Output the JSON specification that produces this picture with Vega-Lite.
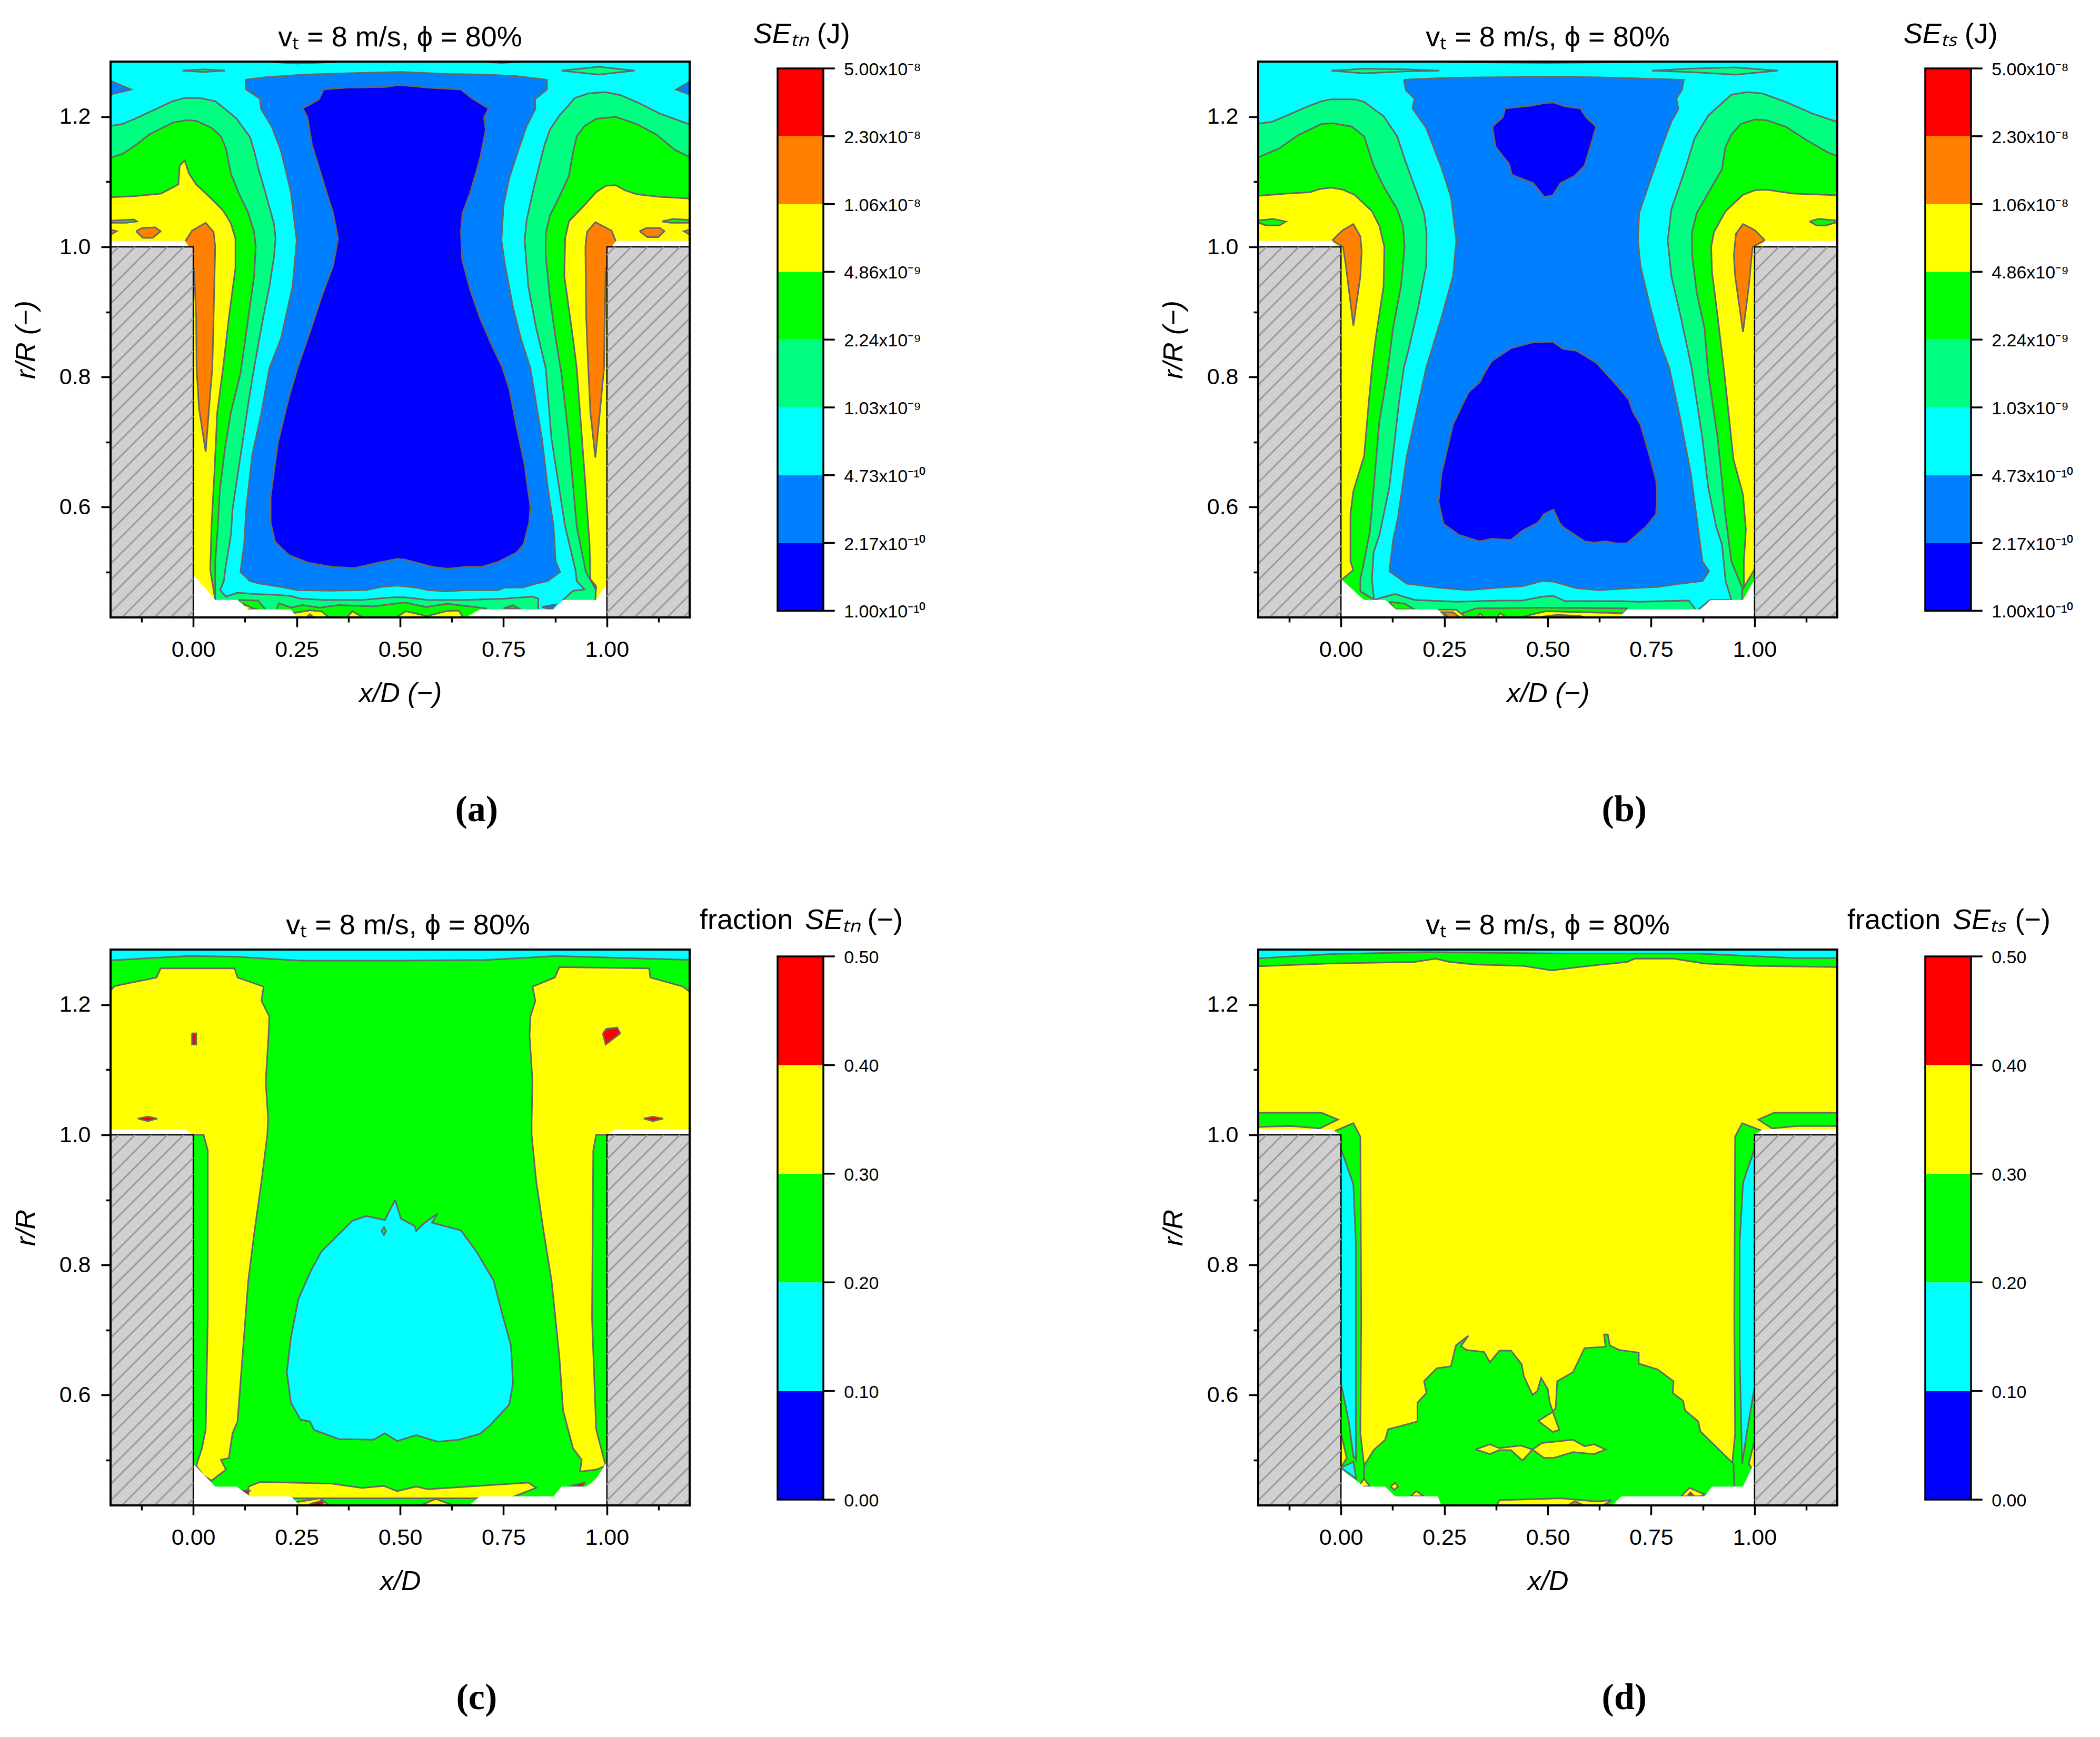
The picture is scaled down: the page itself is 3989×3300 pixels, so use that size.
{"$schema":"https://vega.github.io/schema/vega-lite/v6.json",
"padding":{"left":23,"top":38,"right":0,"bottom":0},
"background":"white",
"config":{"view":{"stroke":null},"font":"Liberation Sans","text":{"font":"Liberation Sans"},
"axis":{"domain":false,"grid":false,"tickColor":"black","tickWidth":3.5,"labelFont":"Liberation Sans","labelFontSize":43,"labelColor":"black","titleFont":"Liberation Sans","titleFontSize":52,"titleFontWeight":"normal","titleFontStyle":"italic","titleColor":"black","zindex":1,"labelBound":false,"labelFlush":false,"labelOverlap":false}},
"datasets":{
"frame":[{"x":-0.2,"x2":1.2,"y":0.43,"y2":1.285}],
"walls":[{"x":-0.2,"x2":0,"y":0.43,"y2":1},{"x":1,"x2":1.2,"y":0.43,"y2":1}],
"hatch":[
{"x":-0.0154,"x2":0,"y":0.43,"y2":0.4398},{"x":-0.0547,"x2":0,"y":0.43,"y2":0.4648},{"x":-0.094,"x2":0,"y":0.43,"y2":0.4898},{"x":-0.1333,"x2":0,"y":0.43,"y2":0.5148},{"x":-0.1725,"x2":0,"y":0.43,"y2":0.5398},{"x":-0.2,"x2":0,"y":0.4375,"y2":0.5648},{"x":-0.2,"x2":0,"y":0.4625,"y2":0.5898},{"x":-0.2,"x2":0,"y":0.4875,"y2":0.6148},{"x":-0.2,"x2":0,"y":0.5125,"y2":0.6398},{"x":-0.2,"x2":0,"y":0.5375,"y2":0.6648},{"x":-0.2,"x2":0,"y":0.5625,"y2":0.6898},{"x":-0.2,"x2":0,"y":0.5875,"y2":0.7148},{"x":-0.2,"x2":0,"y":0.6125,"y2":0.7398},{"x":-0.2,"x2":0,"y":0.6375,"y2":0.7648},{"x":-0.2,"x2":0,"y":0.6625,"y2":0.7898},{"x":-0.2,"x2":0,"y":0.6875,"y2":0.8148},{"x":-0.2,"x2":0,"y":0.7125,"y2":0.8398},{"x":-0.2,"x2":0,"y":0.7375,"y2":0.8648},{"x":-0.2,"x2":0,"y":0.7625,"y2":0.8898},{"x":-0.2,"x2":0,"y":0.7875,"y2":0.9148},{"x":-0.2,"x2":0,"y":0.8125,"y2":0.9398},{"x":-0.2,"x2":0,"y":0.8375,"y2":0.9648},{"x":-0.2,"x2":0,"y":0.8625,"y2":0.9898},{"x":-0.2,"x2":-0.0233,"y":0.8875,"y2":1},{"x":-0.2,"x2":-0.0626,"y":0.9125,"y2":1},{"x":-0.2,"x2":-0.1018,"y":0.9375,"y2":1},{"x":-0.2,"x2":-0.1411,"y":0.9625,"y2":1},{"x":-0.2,"x2":-0.1804,"y":0.9875,"y2":1},
{"x":1.1846,"x2":1.2,"y":0.43,"y2":0.4398},{"x":1.1453,"x2":1.2,"y":0.43,"y2":0.4648},{"x":1.106,"x2":1.2,"y":0.43,"y2":0.4898},{"x":1.0667,"x2":1.2,"y":0.43,"y2":0.5148},{"x":1.0275,"x2":1.2,"y":0.43,"y2":0.5398},{"x":1,"x2":1.2,"y":0.4375,"y2":0.5648},{"x":1,"x2":1.2,"y":0.4625,"y2":0.5898},{"x":1,"x2":1.2,"y":0.4875,"y2":0.6148},{"x":1,"x2":1.2,"y":0.5125,"y2":0.6398},{"x":1,"x2":1.2,"y":0.5375,"y2":0.6648},{"x":1,"x2":1.2,"y":0.5625,"y2":0.6898},{"x":1,"x2":1.2,"y":0.5875,"y2":0.7148},{"x":1,"x2":1.2,"y":0.6125,"y2":0.7398},{"x":1,"x2":1.2,"y":0.6375,"y2":0.7648},{"x":1,"x2":1.2,"y":0.6625,"y2":0.7898},{"x":1,"x2":1.2,"y":0.6875,"y2":0.8148},{"x":1,"x2":1.2,"y":0.7125,"y2":0.8398},{"x":1,"x2":1.2,"y":0.7375,"y2":0.8648},{"x":1,"x2":1.2,"y":0.7625,"y2":0.8898},{"x":1,"x2":1.2,"y":0.7875,"y2":0.9148},{"x":1,"x2":1.2,"y":0.8125,"y2":0.9398},{"x":1,"x2":1.2,"y":0.8375,"y2":0.9648},{"x":1,"x2":1.2,"y":0.8625,"y2":0.9898},{"x":1,"x2":1.1767,"y":0.8875,"y2":1},{"x":1,"x2":1.1374,"y":0.9125,"y2":1},{"x":1,"x2":1.0982,"y":0.9375,"y2":1},{"x":1,"x2":1.0589,"y":0.9625,"y2":1},{"x":1,"x2":1.0196,"y":0.9875,"y2":1}],
"barE":[{"l":1,"lo":0,"hi":1},{"l":2,"lo":1,"hi":2},{"l":3,"lo":2,"hi":3},{"l":4,"lo":3,"hi":4},{"l":5,"lo":4,"hi":5},{"l":6,"lo":5,"hi":6},{"l":7,"lo":6,"hi":7},{"l":8,"lo":7,"hi":8}],
"tickE":[{"v":0,"t":"1.00x10⁻¹⁰"},{"v":1,"t":"2.17x10⁻¹⁰"},{"v":2,"t":"4.73x10⁻¹⁰"},{"v":3,"t":"1.03x10⁻⁹"},{"v":4,"t":"2.24x10⁻⁹"},{"v":5,"t":"4.86x10⁻⁹"},{"v":6,"t":"1.06x10⁻⁸"},{"v":7,"t":"2.30x10⁻⁸"},{"v":8,"t":"5.00x10⁻⁸"}],
"barF":[{"l":1,"lo":0,"hi":1},{"l":3,"lo":1,"hi":2},{"l":5,"lo":2,"hi":3},{"l":6,"lo":3,"hi":4},{"l":8,"lo":4,"hi":5}],
"tickF":[{"v":0,"t":"0.00"},{"v":1,"t":"0.10"},{"v":2,"t":"0.20"},{"v":3,"t":"0.30"},{"v":4,"t":"0.40"},{"v":5,"t":"0.50"}],
"A":[
{"r":"a1","l":3,"x":-0.21,"y":1.185},{"r":"a1","l":3,"x":-0.171,"y":1.189},{"r":"a1","l":3,"x":-0.134,"y":1.199},{"r":"a1","l":3,"x":-0.087,"y":1.213},{"r":"a1","l":3,"x":-0.05,"y":1.224},{"r":"a1","l":3,"x":-0.021,"y":1.229},{"r":"a1","l":3,"x":0.016,"y":1.229},{"r":"a1","l":3,"x":0.053,"y":1.224},{"r":"a1","l":3,"x":0.077,"y":1.212},{"r":"a1","l":3,"x":0.105,"y":1.197},{"r":"a1","l":3,"x":0.123,"y":1.181},{"r":"a1","l":3,"x":0.137,"y":1.169},{"r":"a1","l":3,"x":0.147,"y":1.148},{"r":"a1","l":3,"x":0.158,"y":1.119},{"r":"a1","l":3,"x":0.17,"y":1.093},{"r":"a1","l":3,"x":0.184,"y":1.061},{"r":"a1","l":3,"x":0.195,"y":1.036},{"r":"a1","l":3,"x":0.199,"y":1.013},{"r":"a1","l":3,"x":0.195,"y":0.984},{"r":"a1","l":3,"x":0.184,"y":0.939},{"r":"a1","l":3,"x":0.17,"y":0.895},{"r":"a1","l":3,"x":0.158,"y":0.853},{"r":"a1","l":3,"x":0.147,"y":0.8135},{"r":"a1","l":3,"x":0.133,"y":0.759},{"r":"a1","l":3,"x":0.114,"y":0.678},{"r":"a1","l":3,"x":0.095,"y":0.597},{"r":"a1","l":3,"x":0.091,"y":0.557},{"r":"a1","l":3,"x":0.077,"y":0.503},{"r":"a1","l":3,"x":0.074,"y":0.486},{"r":"a1","l":3,"x":0.065,"y":0.472},{"r":"a1","l":3,"x":0.079,"y":0.462},{"r":"a1","l":3,"x":0.107,"y":0.468},{"r":"a1","l":3,"x":0.147,"y":0.466},{"r":"a1","l":3,"x":0.193,"y":0.465},{"r":"a1","l":3,"x":0.236,"y":0.463},{"r":"a1","l":3,"x":0.259,"y":0.459},{"r":"a1","l":3,"x":0.315,"y":0.457},{"r":"a1","l":3,"x":0.408,"y":0.457},{"r":"a1","l":3,"x":0.483,"y":0.461},{"r":"a1","l":3,"x":0.511,"y":0.461},{"r":"a1","l":3,"x":0.567,"y":0.457},{"r":"a1","l":3,"x":0.661,"y":0.457},{"r":"a1","l":3,"x":0.754,"y":0.459},{"r":"a1","l":3,"x":0.82,"y":0.462},{"r":"a1","l":3,"x":0.834,"y":0.459},{"r":"a1","l":3,"x":0.834,"y":0.43},{"r":"a1","l":3,"x":0.871,"y":0.43},{"r":"a1","l":3,"x":0.894,"y":0.457},{"r":"a1","l":3,"x":0.918,"y":0.471},{"r":"a1","l":3,"x":0.946,"y":0.473},{"r":"a1","l":3,"x":0.927,"y":0.486},{"r":"a1","l":3,"x":0.924,"y":0.503},{"r":"a1","l":3,"x":0.899,"y":0.57},{"r":"a1","l":3,"x":0.866,"y":0.705},{"r":"a1","l":3,"x":0.852,"y":0.8135},{"r":"a1","l":3,"x":0.829,"y":0.875},{"r":"a1","l":3,"x":0.81,"y":0.939},{"r":"a1","l":3,"x":0.801,"y":1.01},{"r":"a1","l":3,"x":0.806,"y":1.042},{"r":"a1","l":3,"x":0.824,"y":1.093},{"r":"a1","l":3,"x":0.848,"y":1.154},{"r":"a1","l":3,"x":0.862,"y":1.18},{"r":"a1","l":3,"x":0.885,"y":1.202},{"r":"a1","l":3,"x":0.908,"y":1.218},{"r":"a1","l":3,"x":0.922,"y":1.229},{"r":"a1","l":3,"x":0.955,"y":1.236},{"r":"a1","l":3,"x":0.997,"y":1.238},{"r":"a1","l":3,"x":1.035,"y":1.233},{"r":"a1","l":3,"x":1.081,"y":1.22},{"r":"a1","l":3,"x":1.128,"y":1.205},{"r":"a1","l":3,"x":1.21,"y":1.186},{"r":"a1","l":3,"x":1.21,"y":1.3},{"r":"a1","l":3,"x":-0.21,"y":1.3},{"r":"a1","l":3,"x":-0.21,"y":1.185},
{"r":"a2","l":4,"x":-0.026,"y":1.271},{"r":"a2","l":4,"x":0.025,"y":1.273},{"r":"a2","l":4,"x":0.077,"y":1.271},{"r":"a2","l":4,"x":0.025,"y":1.269},{"r":"a2","l":4,"x":-0.026,"y":1.271},
{"r":"a3","l":4,"x":0.89,"y":1.271},{"r":"a3","l":4,"x":0.98,"y":1.277},{"r":"a3","l":4,"x":1.067,"y":1.271},{"r":"a3","l":4,"x":0.98,"y":1.265},{"r":"a3","l":4,"x":0.89,"y":1.271},
{"r":"a4","l":4,"x":0.175,"y":1.285},{"r":"a4","l":4,"x":0.25,"y":1.282},{"r":"a4","l":4,"x":0.371,"y":1.285},{"r":"a4","l":4,"x":0.175,"y":1.285},
{"r":"a5","l":4,"x":0.689,"y":1.285},{"r":"a5","l":4,"x":0.745,"y":1.283},{"r":"a5","l":4,"x":0.801,"y":1.285},{"r":"a5","l":4,"x":0.689,"y":1.285},
{"r":"a6","l":2,"x":-0.21,"y":1.258},{"r":"a6","l":2,"x":-0.15,"y":1.242},{"r":"a6","l":2,"x":-0.21,"y":1.233},{"r":"a6","l":2,"x":-0.21,"y":1.258},
{"r":"a7","l":2,"x":1.21,"y":1.258},{"r":"a7","l":2,"x":1.167,"y":1.242},{"r":"a7","l":2,"x":1.21,"y":1.232},{"r":"a7","l":2,"x":1.21,"y":1.258},
{"r":"a8","l":2,"x":0.126,"y":1.257},{"r":"a8","l":2,"x":0.175,"y":1.261},{"r":"a8","l":2,"x":0.268,"y":1.265},{"r":"a8","l":2,"x":0.371,"y":1.267},{"r":"a8","l":2,"x":0.502,"y":1.269},{"r":"a8","l":2,"x":0.614,"y":1.266},{"r":"a8","l":2,"x":0.707,"y":1.265},{"r":"a8","l":2,"x":0.782,"y":1.2625},{"r":"a8","l":2,"x":0.855,"y":1.257},{"r":"a8","l":2,"x":0.855,"y":1.242},{"r":"a8","l":2,"x":0.826,"y":1.227},{"r":"a8","l":2,"x":0.827,"y":1.212},{"r":"a8","l":2,"x":0.806,"y":1.186},{"r":"a8","l":2,"x":0.787,"y":1.151},{"r":"a8","l":2,"x":0.764,"y":1.106},{"r":"a8","l":2,"x":0.75,"y":1.064},{"r":"a8","l":2,"x":0.745,"y":1.01},{"r":"a8","l":2,"x":0.754,"y":0.971},{"r":"a8","l":2,"x":0.773,"y":0.907},{"r":"a8","l":2,"x":0.792,"y":0.859},{"r":"a8","l":2,"x":0.815,"y":0.8135},{"r":"a8","l":2,"x":0.829,"y":0.759},{"r":"a8","l":2,"x":0.843,"y":0.705},{"r":"a8","l":2,"x":0.857,"y":0.63},{"r":"a8","l":2,"x":0.871,"y":0.57},{"r":"a8","l":2,"x":0.876,"y":0.516},{"r":"a8","l":2,"x":0.887,"y":0.5},{"r":"a8","l":2,"x":0.857,"y":0.486},{"r":"a8","l":2,"x":0.829,"y":0.482},{"r":"a8","l":2,"x":0.796,"y":0.476},{"r":"a8","l":2,"x":0.754,"y":0.476},{"r":"a8","l":2,"x":0.736,"y":0.472},{"r":"a8","l":2,"x":0.661,"y":0.472},{"r":"a8","l":2,"x":0.614,"y":0.47},{"r":"a8","l":2,"x":0.567,"y":0.472},{"r":"a8","l":2,"x":0.539,"y":0.476},{"r":"a8","l":2,"x":0.493,"y":0.479},{"r":"a8","l":2,"x":0.455,"y":0.477},{"r":"a8","l":2,"x":0.418,"y":0.472},{"r":"a8","l":2,"x":0.334,"y":0.471},{"r":"a8","l":2,"x":0.25,"y":0.472},{"r":"a8","l":2,"x":0.212,"y":0.477},{"r":"a8","l":2,"x":0.161,"y":0.482},{"r":"a8","l":2,"x":0.137,"y":0.486},{"r":"a8","l":2,"x":0.114,"y":0.5},{"r":"a8","l":2,"x":0.123,"y":0.543},{"r":"a8","l":2,"x":0.128,"y":0.597},{"r":"a8","l":2,"x":0.142,"y":0.678},{"r":"a8","l":2,"x":0.165,"y":0.746},{"r":"a8","l":2,"x":0.184,"y":0.8135},{"r":"a8","l":2,"x":0.212,"y":0.859},{"r":"a8","l":2,"x":0.24,"y":0.939},{"r":"a8","l":2,"x":0.25,"y":1.01},{"r":"a8","l":2,"x":0.236,"y":1.084},{"r":"a8","l":2,"x":0.212,"y":1.148},{"r":"a8","l":2,"x":0.189,"y":1.186},{"r":"a8","l":2,"x":0.164,"y":1.212},{"r":"a8","l":2,"x":0.161,"y":1.228},{"r":"a8","l":2,"x":0.128,"y":1.242},{"r":"a8","l":2,"x":0.126,"y":1.257},
{"r":"a9","l":1,"x":0.315,"y":1.242},{"r":"a9","l":1,"x":0.371,"y":1.245},{"r":"a9","l":1,"x":0.464,"y":1.246},{"r":"a9","l":1,"x":0.497,"y":1.249},{"r":"a9","l":1,"x":0.567,"y":1.245},{"r":"a9","l":1,"x":0.647,"y":1.242},{"r":"a9","l":1,"x":0.675,"y":1.228},{"r":"a9","l":1,"x":0.714,"y":1.213},{"r":"a9","l":1,"x":0.703,"y":1.199},{"r":"a9","l":1,"x":0.707,"y":1.18},{"r":"a9","l":1,"x":0.693,"y":1.135},{"r":"a9","l":1,"x":0.67,"y":1.084},{"r":"a9","l":1,"x":0.651,"y":1.052},{"r":"a9","l":1,"x":0.647,"y":1.023},{"r":"a9","l":1,"x":0.65,"y":0.981},{"r":"a9","l":1,"x":0.67,"y":0.933},{"r":"a9","l":1,"x":0.693,"y":0.891},{"r":"a9","l":1,"x":0.721,"y":0.85},{"r":"a9","l":1,"x":0.748,"y":0.8135},{"r":"a9","l":1,"x":0.764,"y":0.781},{"r":"a9","l":1,"x":0.782,"y":0.722},{"r":"a9","l":1,"x":0.801,"y":0.665},{"r":"a9","l":1,"x":0.815,"y":0.6},{"r":"a9","l":1,"x":0.812,"y":0.576},{"r":"a9","l":1,"x":0.799,"y":0.543},{"r":"a9","l":1,"x":0.782,"y":0.53},{"r":"a9","l":1,"x":0.736,"y":0.515},{"r":"a9","l":1,"x":0.698,"y":0.508},{"r":"a9","l":1,"x":0.661,"y":0.508},{"r":"a9","l":1,"x":0.614,"y":0.505},{"r":"a9","l":1,"x":0.577,"y":0.508},{"r":"a9","l":1,"x":0.511,"y":0.519},{"r":"a9","l":1,"x":0.493,"y":0.52},{"r":"a9","l":1,"x":0.446,"y":0.514},{"r":"a9","l":1,"x":0.39,"y":0.506},{"r":"a9","l":1,"x":0.334,"y":0.508},{"r":"a9","l":1,"x":0.278,"y":0.514},{"r":"a9","l":1,"x":0.231,"y":0.526},{"r":"a9","l":1,"x":0.198,"y":0.546},{"r":"a9","l":1,"x":0.187,"y":0.576},{"r":"a9","l":1,"x":0.187,"y":0.616},{"r":"a9","l":1,"x":0.205,"y":0.7},{"r":"a9","l":1,"x":0.231,"y":0.768},{"r":"a9","l":1,"x":0.252,"y":0.8135},{"r":"a9","l":1,"x":0.282,"y":0.869},{"r":"a9","l":1,"x":0.31,"y":0.923},{"r":"a9","l":1,"x":0.338,"y":0.971},{"r":"a9","l":1,"x":0.35,"y":1.013},{"r":"a9","l":1,"x":0.338,"y":1.052},{"r":"a9","l":1,"x":0.31,"y":1.109},{"r":"a9","l":1,"x":0.287,"y":1.157},{"r":"a9","l":1,"x":0.276,"y":1.199},{"r":"a9","l":1,"x":0.265,"y":1.213},{"r":"a9","l":1,"x":0.304,"y":1.227},{"r":"a9","l":1,"x":0.315,"y":1.242},
{"r":"a10","l":5,"x":-0.21,"y":1.135},{"r":"a10","l":5,"x":-0.171,"y":1.143},{"r":"a10","l":5,"x":-0.138,"y":1.157},{"r":"a10","l":5,"x":-0.106,"y":1.173},{"r":"a10","l":5,"x":-0.05,"y":1.191},{"r":"a10","l":5,"x":-0.017,"y":1.195},{"r":"a10","l":5,"x":0.007,"y":1.194},{"r":"a10","l":5,"x":0.044,"y":1.183},{"r":"a10","l":5,"x":0.067,"y":1.17},{"r":"a10","l":5,"x":0.079,"y":1.151},{"r":"a10","l":5,"x":0.091,"y":1.1125},{"r":"a10","l":5,"x":0.109,"y":1.084},{"r":"a10","l":5,"x":0.133,"y":1.052},{"r":"a10","l":5,"x":0.147,"y":1.023},{"r":"a10","l":5,"x":0.151,"y":1.0},{"r":"a10","l":5,"x":0.147,"y":0.955},{"r":"a10","l":5,"x":0.133,"y":0.891},{"r":"a10","l":5,"x":0.114,"y":0.805},{"r":"a10","l":5,"x":0.091,"y":0.746},{"r":"a10","l":5,"x":0.077,"y":0.692},{"r":"a10","l":5,"x":0.064,"y":0.624},{"r":"a10","l":5,"x":0.058,"y":0.557},{"r":"a10","l":5,"x":0.053,"y":0.516},{"r":"a10","l":5,"x":0.053,"y":0.42},{"r":"a10","l":5,"x":-0.21,"y":0.42},{"r":"a10","l":5,"x":-0.21,"y":1.135},
{"r":"a11","l":5,"x":1.21,"y":1.135},{"r":"a11","l":5,"x":1.165,"y":1.149},{"r":"a11","l":5,"x":1.119,"y":1.173},{"r":"a11","l":5,"x":1.072,"y":1.189},{"r":"a11","l":5,"x":1.021,"y":1.2},{"r":"a11","l":5,"x":0.974,"y":1.197},{"r":"a11","l":5,"x":0.946,"y":1.186},{"r":"a11","l":5,"x":0.927,"y":1.17},{"r":"a11","l":5,"x":0.918,"y":1.145},{"r":"a11","l":5,"x":0.908,"y":1.109},{"r":"a11","l":5,"x":0.885,"y":1.077},{"r":"a11","l":5,"x":0.862,"y":1.048},{"r":"a11","l":5,"x":0.852,"y":1.02},{"r":"a11","l":5,"x":0.852,"y":0.9875},{"r":"a11","l":5,"x":0.862,"y":0.923},{"r":"a11","l":5,"x":0.876,"y":0.859},{"r":"a11","l":5,"x":0.89,"y":0.805},{"r":"a11","l":5,"x":0.908,"y":0.705},{"r":"a11","l":5,"x":0.927,"y":0.57},{"r":"a11","l":5,"x":0.949,"y":0.5},{"r":"a11","l":5,"x":0.974,"y":0.472},{"r":"a11","l":5,"x":0.974,"y":0.42},{"r":"a11","l":5,"x":1.21,"y":0.42},{"r":"a11","l":5,"x":1.21,"y":1.135},
{"r":"a12","l":6,"x":-0.21,"y":1.076},{"r":"a12","l":6,"x":-0.143,"y":1.078},{"r":"a12","l":6,"x":-0.078,"y":1.082},{"r":"a12","l":6,"x":-0.054,"y":1.09},{"r":"a12","l":6,"x":-0.036,"y":1.096},{"r":"a12","l":6,"x":-0.033,"y":1.125},{"r":"a12","l":6,"x":-0.021,"y":1.133},{"r":"a12","l":6,"x":-0.01,"y":1.1125},{"r":"a12","l":6,"x":0.007,"y":1.096},{"r":"a12","l":6,"x":0.039,"y":1.077},{"r":"a12","l":6,"x":0.072,"y":1.056},{"r":"a12","l":6,"x":0.091,"y":1.036},{"r":"a12","l":6,"x":0.102,"y":1.013},{"r":"a12","l":6,"x":0.102,"y":0.968},{"r":"a12","l":6,"x":0.086,"y":0.891},{"r":"a12","l":6,"x":0.072,"y":0.8135},{"r":"a12","l":6,"x":0.058,"y":0.746},{"r":"a12","l":6,"x":0.051,"y":0.651},{"r":"a12","l":6,"x":0.044,"y":0.57},{"r":"a12","l":6,"x":0.041,"y":0.503},{"r":"a12","l":6,"x":0.053,"y":0.457},{"r":"a12","l":6,"x":0.053,"y":0.42},{"r":"a12","l":6,"x":-0.21,"y":0.42},{"r":"a12","l":6,"x":-0.21,"y":1.076},
{"r":"a13","l":6,"x":1.21,"y":1.074},{"r":"a13","l":6,"x":1.128,"y":1.077},{"r":"a13","l":6,"x":1.072,"y":1.081},{"r":"a13","l":6,"x":1.044,"y":1.087},{"r":"a13","l":6,"x":1.021,"y":1.095},{"r":"a13","l":6,"x":0.997,"y":1.094},{"r":"a13","l":6,"x":0.974,"y":1.084},{"r":"a13","l":6,"x":0.941,"y":1.061},{"r":"a13","l":6,"x":0.908,"y":1.039},{"r":"a13","l":6,"x":0.899,"y":1.013},{"r":"a13","l":6,"x":0.897,"y":0.955},{"r":"a13","l":6,"x":0.918,"y":0.859},{"r":"a13","l":6,"x":0.927,"y":0.8135},{"r":"a13","l":6,"x":0.946,"y":0.651},{"r":"a13","l":6,"x":0.958,"y":0.543},{"r":"a13","l":6,"x":0.96,"y":0.489},{"r":"a13","l":6,"x":0.974,"y":0.478},{"r":"a13","l":6,"x":0.972,"y":0.457},{"r":"a13","l":6,"x":0.972,"y":0.42},{"r":"a13","l":6,"x":1.21,"y":0.42},{"r":"a13","l":6,"x":1.21,"y":1.074},
{"r":"a14","l":7,"x":-0.02,"y":1.008},{"r":"a14","l":7,"x":-0.003,"y":1.025},{"r":"a14","l":7,"x":0.03,"y":1.037},{"r":"a14","l":7,"x":0.049,"y":1.023},{"r":"a14","l":7,"x":0.053,"y":1.0},{"r":"a14","l":7,"x":0.049,"y":0.891},{"r":"a14","l":7,"x":0.046,"y":0.8135},{"r":"a14","l":7,"x":0.039,"y":0.759},{"r":"a14","l":7,"x":0.03,"y":0.685},{"r":"a14","l":7,"x":0.014,"y":0.751},{"r":"a14","l":7,"x":0.008,"y":0.8135},{"r":"a14","l":7,"x":0.007,"y":0.891},{"r":"a14","l":7,"x":0.002,"y":0.965},{"r":"a14","l":7,"x":-0.02,"y":1.008},
{"r":"a15","l":7,"x":1.022,"y":1.008},{"r":"a15","l":7,"x":1.011,"y":1.025},{"r":"a15","l":7,"x":0.972,"y":1.038},{"r":"a15","l":7,"x":0.952,"y":1.023},{"r":"a15","l":7,"x":0.948,"y":1.0},{"r":"a15","l":7,"x":0.95,"y":0.891},{"r":"a15","l":7,"x":0.955,"y":0.8135},{"r":"a15","l":7,"x":0.96,"y":0.746},{"r":"a15","l":7,"x":0.972,"y":0.676},{"r":"a15","l":7,"x":0.983,"y":0.746},{"r":"a15","l":7,"x":0.993,"y":0.8135},{"r":"a15","l":7,"x":0.994,"y":0.859},{"r":"a15","l":7,"x":0.997,"y":0.965},{"r":"a15","l":7,"x":1.022,"y":1.008},
{"r":"a16","l":7,"x":-0.138,"y":1.024},{"r":"a16","l":7,"x":-0.124,"y":1.029},{"r":"a16","l":7,"x":-0.092,"y":1.03},{"r":"a16","l":7,"x":-0.079,"y":1.024},{"r":"a16","l":7,"x":-0.098,"y":1.014},{"r":"a16","l":7,"x":-0.122,"y":1.014},{"r":"a16","l":7,"x":-0.138,"y":1.024},
{"r":"a17","l":7,"x":-0.21,"y":1.028},{"r":"a17","l":7,"x":-0.185,"y":1.024},{"r":"a17","l":7,"x":-0.21,"y":1.015},{"r":"a17","l":7,"x":-0.21,"y":1.028},
{"r":"a18","l":7,"x":1.079,"y":1.024},{"r":"a18","l":7,"x":1.095,"y":1.029},{"r":"a18","l":7,"x":1.128,"y":1.029},{"r":"a18","l":7,"x":1.139,"y":1.024},{"r":"a18","l":7,"x":1.124,"y":1.015},{"r":"a18","l":7,"x":1.098,"y":1.015},{"r":"a18","l":7,"x":1.079,"y":1.024},
{"r":"a19","l":7,"x":1.21,"y":1.028},{"r":"a19","l":7,"x":1.186,"y":1.024},{"r":"a19","l":7,"x":1.21,"y":1.015},{"r":"a19","l":7,"x":1.21,"y":1.028},
{"r":"a20","l":5,"x":-0.21,"y":1.04},{"r":"a20","l":5,"x":-0.143,"y":1.042},{"r":"a20","l":5,"x":-0.136,"y":1.039},{"r":"a20","l":5,"x":-0.162,"y":1.037},{"r":"a20","l":5,"x":-0.21,"y":1.037},{"r":"a20","l":5,"x":-0.21,"y":1.04},
{"r":"a21","l":5,"x":1.133,"y":1.039},{"r":"a21","l":5,"x":1.16,"y":1.043},{"r":"a21","l":5,"x":1.21,"y":1.041},{"r":"a21","l":5,"x":1.21,"y":1.037},{"r":"a21","l":5,"x":1.155,"y":1.037},{"r":"a21","l":5,"x":1.133,"y":1.039},
{"r":"a22","l":5,"x":0.193,"y":0.427},{"r":"a22","l":5,"x":0.207,"y":0.452},{"r":"a22","l":5,"x":0.236,"y":0.445},{"r":"a22","l":5,"x":0.264,"y":0.449},{"r":"a22","l":5,"x":0.306,"y":0.445},{"r":"a22","l":5,"x":0.352,"y":0.449},{"r":"a22","l":5,"x":0.436,"y":0.447},{"r":"a22","l":5,"x":0.511,"y":0.453},{"r":"a22","l":5,"x":0.563,"y":0.446},{"r":"a22","l":5,"x":0.614,"y":0.451},{"r":"a22","l":5,"x":0.707,"y":0.444},{"r":"a22","l":5,"x":0.726,"y":0.427},{"r":"a22","l":5,"x":0.193,"y":0.427},
{"r":"a23","l":6,"x":0.24,"y":0.4365},{"r":"a23","l":6,"x":0.283,"y":0.441},{"r":"a23","l":6,"x":0.311,"y":0.439},{"r":"a23","l":6,"x":0.334,"y":0.427},{"r":"a23","l":6,"x":0.24,"y":0.427},{"r":"a23","l":6,"x":0.24,"y":0.4365},
{"r":"a24","l":7,"x":0.268,"y":0.427},{"r":"a24","l":7,"x":0.282,"y":0.435},{"r":"a24","l":7,"x":0.296,"y":0.427},{"r":"a24","l":7,"x":0.268,"y":0.427},
{"r":"a25","l":6,"x":0.366,"y":0.427},{"r":"a25","l":6,"x":0.385,"y":0.4395},{"r":"a25","l":6,"x":0.418,"y":0.427},{"r":"a25","l":6,"x":0.366,"y":0.427},
{"r":"a26","l":6,"x":0.483,"y":0.427},{"r":"a26","l":6,"x":0.514,"y":0.4395},{"r":"a26","l":6,"x":0.565,"y":0.432},{"r":"a26","l":6,"x":0.614,"y":0.44},{"r":"a26","l":6,"x":0.642,"y":0.4405},{"r":"a26","l":6,"x":0.656,"y":0.427},{"r":"a26","l":6,"x":0.483,"y":0.427},
{"r":"a27","l":5,"x":0.11,"y":0.457},{"r":"a27","l":5,"x":0.156,"y":0.456},{"r":"a27","l":5,"x":0.175,"y":0.442},{"r":"a27","l":5,"x":0.133,"y":0.43},{"r":"a27","l":5,"x":0.11,"y":0.457},
{"r":"a28","l":6,"x":0.119,"y":0.4514},{"r":"a28","l":6,"x":0.142,"y":0.4446},{"r":"a28","l":6,"x":0.156,"y":0.4424},{"r":"a28","l":6,"x":0.128,"y":0.4424},{"r":"a28","l":6,"x":0.119,"y":0.4514},
{"r":"a29","l":5,"x":0.75,"y":0.444},{"r":"a29","l":5,"x":0.773,"y":0.449},{"r":"a29","l":5,"x":0.787,"y":0.444},{"r":"a29","l":5,"x":0.75,"y":0.444},
{"r":"a30","l":2,"x":0.843,"y":0.446},{"r":"a30","l":2,"x":0.876,"y":0.45},{"r":"a30","l":2,"x":0.866,"y":0.442},{"r":"a30","l":2,"x":0.843,"y":0.446}],
"MA":[
{"r":"m1","x":-0.21,"y":0.99},{"r":"m1","x":-0.21,"y":1.0093},{"r":"m1","x":-0.02,"y":1.0093},{"r":"m1","x":0,"y":0.99},
{"r":"m2","x":1,"y":0.99},{"r":"m2","x":1.022,"y":1.0093},{"r":"m2","x":1.21,"y":1.0093},{"r":"m2","x":1.21,"y":0.99},
{"r":"m3","x":0,"y":0.496},{"r":"m3","x":0.053,"y":0.457},{"r":"m3","x":0.107,"y":0.457},{"r":"m3","x":0.133,"y":0.4424},{"r":"m3","x":0.2355,"y":0.4424},{"r":"m3","x":0.25,"y":0.431},{"r":"m3","x":0.661,"y":0.431},{"r":"m3","x":0.693,"y":0.4424},{"r":"m3","x":0.871,"y":0.4424},{"r":"m3","x":0.894,"y":0.457},{"r":"m3","x":0.974,"y":0.457},{"r":"m3","x":1,"y":0.481},{"r":"m3","x":1,"y":0.42},{"r":"m3","x":0,"y":0.42}],
"B":[
{"r":"b1","l":3,"x":-0.21,"y":1.189},{"r":"b1","l":3,"x":-0.168,"y":1.192},{"r":"b1","l":3,"x":-0.131,"y":1.202},{"r":"b1","l":3,"x":-0.084,"y":1.215},{"r":"b1","l":3,"x":-0.047,"y":1.224},{"r":"b1","l":3,"x":-0.023,"y":1.227},{"r":"b1","l":3,"x":0.033,"y":1.227},{"r":"b1","l":3,"x":0.056,"y":1.223},{"r":"b1","l":3,"x":0.103,"y":1.201},{"r":"b1","l":3,"x":0.136,"y":1.17},{"r":"b1","l":3,"x":0.154,"y":1.135},{"r":"b1","l":3,"x":0.178,"y":1.093},{"r":"b1","l":3,"x":0.201,"y":1.052},{"r":"b1","l":3,"x":0.207,"y":1.02},{"r":"b1","l":3,"x":0.206,"y":0.971},{"r":"b1","l":3,"x":0.187,"y":0.907},{"r":"b1","l":3,"x":0.164,"y":0.843},{"r":"b1","l":3,"x":0.152,"y":0.8135},{"r":"b1","l":3,"x":0.14,"y":0.759},{"r":"b1","l":3,"x":0.117,"y":0.63},{"r":"b1","l":3,"x":0.093,"y":0.557},{"r":"b1","l":3,"x":0.079,"y":0.53},{"r":"b1","l":3,"x":0.075,"y":0.489},{"r":"b1","l":3,"x":0.08,"y":0.457},{"r":"b1","l":3,"x":0.107,"y":0.462},{"r":"b1","l":3,"x":0.131,"y":0.466},{"r":"b1","l":3,"x":0.178,"y":0.457},{"r":"b1","l":3,"x":0.28,"y":0.454},{"r":"b1","l":3,"x":0.383,"y":0.456},{"r":"b1","l":3,"x":0.439,"y":0.456},{"r":"b1","l":3,"x":0.486,"y":0.462},{"r":"b1","l":3,"x":0.514,"y":0.463},{"r":"b1","l":3,"x":0.542,"y":0.455},{"r":"b1","l":3,"x":0.673,"y":0.455},{"r":"b1","l":3,"x":0.72,"y":0.454},{"r":"b1","l":3,"x":0.841,"y":0.456},{"r":"b1","l":3,"x":0.86,"y":0.44},{"r":"b1","l":3,"x":0.893,"y":0.457},{"r":"b1","l":3,"x":0.944,"y":0.457},{"r":"b1","l":3,"x":0.93,"y":0.486},{"r":"b1","l":3,"x":0.921,"y":0.543},{"r":"b1","l":3,"x":0.907,"y":0.57},{"r":"b1","l":3,"x":0.888,"y":0.63},{"r":"b1","l":3,"x":0.874,"y":0.705},{"r":"b1","l":3,"x":0.848,"y":0.8135},{"r":"b1","l":3,"x":0.822,"y":0.891},{"r":"b1","l":3,"x":0.799,"y":0.955},{"r":"b1","l":3,"x":0.79,"y":1.01},{"r":"b1","l":3,"x":0.799,"y":1.058},{"r":"b1","l":3,"x":0.832,"y":1.119},{"r":"b1","l":3,"x":0.855,"y":1.167},{"r":"b1","l":3,"x":0.888,"y":1.202},{"r":"b1","l":3,"x":0.944,"y":1.234},{"r":"b1","l":3,"x":0.981,"y":1.238},{"r":"b1","l":3,"x":1.019,"y":1.236},{"r":"b1","l":3,"x":1.075,"y":1.223},{"r":"b1","l":3,"x":1.14,"y":1.205},{"r":"b1","l":3,"x":1.21,"y":1.19},{"r":"b1","l":3,"x":1.21,"y":1.3},{"r":"b1","l":3,"x":-0.21,"y":1.3},{"r":"b1","l":3,"x":-0.21,"y":1.189},
{"r":"b2","l":4,"x":-0.023,"y":1.271},{"r":"b2","l":4,"x":0.056,"y":1.274},{"r":"b2","l":4,"x":0.159,"y":1.273},{"r":"b2","l":4,"x":0.238,"y":1.271},{"r":"b2","l":4,"x":0.159,"y":1.27},{"r":"b2","l":4,"x":0.056,"y":1.267},{"r":"b2","l":4,"x":-0.023,"y":1.271},
{"r":"b3","l":4,"x":0.752,"y":1.271},{"r":"b3","l":4,"x":0.841,"y":1.274},{"r":"b3","l":4,"x":0.953,"y":1.276},{"r":"b3","l":4,"x":1.056,"y":1.271},{"r":"b3","l":4,"x":0.953,"y":1.265},{"r":"b3","l":4,"x":0.841,"y":1.269},{"r":"b3","l":4,"x":0.752,"y":1.271},
{"r":"b4","l":4,"x":0.15,"y":1.285},{"r":"b4","l":4,"x":0.495,"y":1.283},{"r":"b4","l":4,"x":0.841,"y":1.285},{"r":"b4","l":4,"x":0.15,"y":1.285},
{"r":"b5","l":2,"x":0.152,"y":1.257},{"r":"b5","l":2,"x":0.252,"y":1.26},{"r":"b5","l":2,"x":0.383,"y":1.261},{"r":"b5","l":2,"x":0.514,"y":1.262},{"r":"b5","l":2,"x":0.673,"y":1.26},{"r":"b5","l":2,"x":0.829,"y":1.257},{"r":"b5","l":2,"x":0.824,"y":1.241},{"r":"b5","l":2,"x":0.811,"y":1.228},{"r":"b5","l":2,"x":0.816,"y":1.212},{"r":"b5","l":2,"x":0.799,"y":1.193},{"r":"b5","l":2,"x":0.776,"y":1.154},{"r":"b5","l":2,"x":0.748,"y":1.103},{"r":"b5","l":2,"x":0.721,"y":1.052},{"r":"b5","l":2,"x":0.718,"y":1.01},{"r":"b5","l":2,"x":0.724,"y":0.971},{"r":"b5","l":2,"x":0.748,"y":0.907},{"r":"b5","l":2,"x":0.771,"y":0.853},{"r":"b5","l":2,"x":0.794,"y":0.8135},{"r":"b5","l":2,"x":0.818,"y":0.743},{"r":"b5","l":2,"x":0.846,"y":0.651},{"r":"b5","l":2,"x":0.874,"y":0.516},{"r":"b5","l":2,"x":0.89,"y":0.501},{"r":"b5","l":2,"x":0.874,"y":0.486},{"r":"b5","l":2,"x":0.822,"y":0.482},{"r":"b5","l":2,"x":0.766,"y":0.477},{"r":"b5","l":2,"x":0.701,"y":0.475},{"r":"b5","l":2,"x":0.626,"y":0.472},{"r":"b5","l":2,"x":0.57,"y":0.475},{"r":"b5","l":2,"x":0.514,"y":0.485},{"r":"b5","l":2,"x":0.486,"y":0.486},{"r":"b5","l":2,"x":0.439,"y":0.478},{"r":"b5","l":2,"x":0.383,"y":0.476},{"r":"b5","l":2,"x":0.308,"y":0.472},{"r":"b5","l":2,"x":0.234,"y":0.476},{"r":"b5","l":2,"x":0.159,"y":0.482},{"r":"b5","l":2,"x":0.117,"y":0.501},{"r":"b5","l":2,"x":0.126,"y":0.549},{"r":"b5","l":2,"x":0.138,"y":0.584},{"r":"b5","l":2,"x":0.159,"y":0.678},{"r":"b5","l":2,"x":0.206,"y":0.8135},{"r":"b5","l":2,"x":0.243,"y":0.891},{"r":"b5","l":2,"x":0.271,"y":0.955},{"r":"b5","l":2,"x":0.279,"y":1.01},{"r":"b5","l":2,"x":0.266,"y":1.077},{"r":"b5","l":2,"x":0.243,"y":1.122},{"r":"b5","l":2,"x":0.206,"y":1.183},{"r":"b5","l":2,"x":0.173,"y":1.213},{"r":"b5","l":2,"x":0.178,"y":1.228},{"r":"b5","l":2,"x":0.157,"y":1.241},{"r":"b5","l":2,"x":0.152,"y":1.257},
{"r":"b6","l":1,"x":0.397,"y":1.213},{"r":"b6","l":1,"x":0.458,"y":1.217},{"r":"b6","l":1,"x":0.491,"y":1.221},{"r":"b6","l":1,"x":0.514,"y":1.222},{"r":"b6","l":1,"x":0.542,"y":1.216},{"r":"b6","l":1,"x":0.579,"y":1.213},{"r":"b6","l":1,"x":0.593,"y":1.199},{"r":"b6","l":1,"x":0.617,"y":1.185},{"r":"b6","l":1,"x":0.603,"y":1.154},{"r":"b6","l":1,"x":0.589,"y":1.125},{"r":"b6","l":1,"x":0.565,"y":1.109},{"r":"b6","l":1,"x":0.531,"y":1.098},{"r":"b6","l":1,"x":0.512,"y":1.079},{"r":"b6","l":1,"x":0.491,"y":1.077},{"r":"b6","l":1,"x":0.465,"y":1.098},{"r":"b6","l":1,"x":0.413,"y":1.111},{"r":"b6","l":1,"x":0.407,"y":1.127},{"r":"b6","l":1,"x":0.374,"y":1.154},{"r":"b6","l":1,"x":0.366,"y":1.185},{"r":"b6","l":1,"x":0.391,"y":1.199},{"r":"b6","l":1,"x":0.397,"y":1.213},
{"r":"b7","l":1,"x":0.346,"y":0.805},{"r":"b7","l":1,"x":0.364,"y":0.824},{"r":"b7","l":1,"x":0.411,"y":0.844},{"r":"b7","l":1,"x":0.463,"y":0.853},{"r":"b7","l":1,"x":0.512,"y":0.854},{"r":"b7","l":1,"x":0.537,"y":0.843},{"r":"b7","l":1,"x":0.57,"y":0.84},{"r":"b7","l":1,"x":0.617,"y":0.822},{"r":"b7","l":1,"x":0.629,"y":0.8135},{"r":"b7","l":1,"x":0.664,"y":0.789},{"r":"b7","l":1,"x":0.696,"y":0.765},{"r":"b7","l":1,"x":0.706,"y":0.746},{"r":"b7","l":1,"x":0.724,"y":0.727},{"r":"b7","l":1,"x":0.743,"y":0.686},{"r":"b7","l":1,"x":0.762,"y":0.641},{"r":"b7","l":1,"x":0.764,"y":0.619},{"r":"b7","l":1,"x":0.762,"y":0.589},{"r":"b7","l":1,"x":0.738,"y":0.57},{"r":"b7","l":1,"x":0.692,"y":0.544},{"r":"b7","l":1,"x":0.664,"y":0.544},{"r":"b7","l":1,"x":0.64,"y":0.547},{"r":"b7","l":1,"x":0.612,"y":0.545},{"r":"b7","l":1,"x":0.589,"y":0.547},{"r":"b7","l":1,"x":0.537,"y":0.569},{"r":"b7","l":1,"x":0.528,"y":0.576},{"r":"b7","l":1,"x":0.514,"y":0.596},{"r":"b7","l":1,"x":0.491,"y":0.589},{"r":"b7","l":1,"x":0.477,"y":0.576},{"r":"b7","l":1,"x":0.439,"y":0.5635},{"r":"b7","l":1,"x":0.411,"y":0.549},{"r":"b7","l":1,"x":0.364,"y":0.551},{"r":"b7","l":1,"x":0.336,"y":0.547},{"r":"b7","l":1,"x":0.285,"y":0.557},{"r":"b7","l":1,"x":0.248,"y":0.574},{"r":"b7","l":1,"x":0.236,"y":0.608},{"r":"b7","l":1,"x":0.243,"y":0.651},{"r":"b7","l":1,"x":0.271,"y":0.727},{"r":"b7","l":1,"x":0.308,"y":0.776},{"r":"b7","l":1,"x":0.336,"y":0.792},{"r":"b7","l":1,"x":0.346,"y":0.805},
{"r":"b8","l":5,"x":-0.21,"y":1.135},{"r":"b8","l":5,"x":-0.15,"y":1.151},{"r":"b8","l":5,"x":-0.103,"y":1.172},{"r":"b8","l":5,"x":-0.047,"y":1.189},{"r":"b8","l":5,"x":-0.019,"y":1.19},{"r":"b8","l":5,"x":0.026,"y":1.185},{"r":"b8","l":5,"x":0.056,"y":1.17},{"r":"b8","l":5,"x":0.079,"y":1.125},{"r":"b8","l":5,"x":0.103,"y":1.093},{"r":"b8","l":5,"x":0.136,"y":1.058},{"r":"b8","l":5,"x":0.15,"y":1.032},{"r":"b8","l":5,"x":0.154,"y":1.0},{"r":"b8","l":5,"x":0.145,"y":0.939},{"r":"b8","l":5,"x":0.126,"y":0.875},{"r":"b8","l":5,"x":0.112,"y":0.805},{"r":"b8","l":5,"x":0.093,"y":0.732},{"r":"b8","l":5,"x":0.082,"y":0.651},{"r":"b8","l":5,"x":0.07,"y":0.562},{"r":"b8","l":5,"x":0.056,"y":0.516},{"r":"b8","l":5,"x":0.047,"y":0.489},{"r":"b8","l":5,"x":0.047,"y":0.47},{"r":"b8","l":5,"x":0.081,"y":0.457},{"r":"b8","l":5,"x":0.081,"y":0.42},{"r":"b8","l":5,"x":-0.21,"y":0.42},{"r":"b8","l":5,"x":-0.21,"y":1.135},
{"r":"b9","l":5,"x":1.21,"y":1.137},{"r":"b9","l":5,"x":1.178,"y":1.145},{"r":"b9","l":5,"x":1.126,"y":1.164},{"r":"b9","l":5,"x":1.075,"y":1.185},{"r":"b9","l":5,"x":1.028,"y":1.195},{"r":"b9","l":5,"x":1.0,"y":1.196},{"r":"b9","l":5,"x":0.967,"y":1.189},{"r":"b9","l":5,"x":0.944,"y":1.173},{"r":"b9","l":5,"x":0.93,"y":1.154},{"r":"b9","l":5,"x":0.921,"y":1.119},{"r":"b9","l":5,"x":0.897,"y":1.093},{"r":"b9","l":5,"x":0.86,"y":1.052},{"r":"b9","l":5,"x":0.848,"y":1.02},{"r":"b9","l":5,"x":0.849,"y":0.9875},{"r":"b9","l":5,"x":0.86,"y":0.93},{"r":"b9","l":5,"x":0.879,"y":0.875},{"r":"b9","l":5,"x":0.888,"y":0.805},{"r":"b9","l":5,"x":0.911,"y":0.705},{"r":"b9","l":5,"x":0.93,"y":0.584},{"r":"b9","l":5,"x":0.944,"y":0.516},{"r":"b9","l":5,"x":0.97,"y":0.476},{"r":"b9","l":5,"x":0.97,"y":0.42},{"r":"b9","l":5,"x":1.21,"y":0.42},{"r":"b9","l":5,"x":1.21,"y":1.137},
{"r":"b10","l":6,"x":-0.21,"y":1.078},{"r":"b10","l":6,"x":-0.131,"y":1.082},{"r":"b10","l":6,"x":-0.075,"y":1.084},{"r":"b10","l":6,"x":-0.051,"y":1.089},{"r":"b10","l":6,"x":-0.023,"y":1.091},{"r":"b10","l":6,"x":0.005,"y":1.088},{"r":"b10","l":6,"x":0.033,"y":1.08},{"r":"b10","l":6,"x":0.075,"y":1.055},{"r":"b10","l":6,"x":0.093,"y":1.032},{"r":"b10","l":6,"x":0.105,"y":1.0},{"r":"b10","l":6,"x":0.103,"y":0.939},{"r":"b10","l":6,"x":0.084,"y":0.859},{"r":"b10","l":6,"x":0.075,"y":0.8135},{"r":"b10","l":6,"x":0.067,"y":0.759},{"r":"b10","l":6,"x":0.056,"y":0.678},{"r":"b10","l":6,"x":0.03,"y":0.624},{"r":"b10","l":6,"x":0.023,"y":0.589},{"r":"b10","l":6,"x":0.023,"y":0.516},{"r":"b10","l":6,"x":0.03,"y":0.503},{"r":"b10","l":6,"x":0.002,"y":0.488},{"r":"b10","l":6,"x":-0.21,"y":0.488},{"r":"b10","l":6,"x":-0.21,"y":1.078},
{"r":"b11","l":6,"x":1.21,"y":1.079},{"r":"b11","l":6,"x":1.093,"y":1.082},{"r":"b11","l":6,"x":1.028,"y":1.088},{"r":"b11","l":6,"x":1.0,"y":1.087},{"r":"b11","l":6,"x":0.972,"y":1.08},{"r":"b11","l":6,"x":0.93,"y":1.055},{"r":"b11","l":6,"x":0.902,"y":1.023},{"r":"b11","l":6,"x":0.895,"y":1.0},{"r":"b11","l":6,"x":0.897,"y":0.962},{"r":"b11","l":6,"x":0.911,"y":0.891},{"r":"b11","l":6,"x":0.927,"y":0.805},{"r":"b11","l":6,"x":0.949,"y":0.673},{"r":"b11","l":6,"x":0.972,"y":0.619},{"r":"b11","l":6,"x":0.979,"y":0.565},{"r":"b11","l":6,"x":0.974,"y":0.516},{"r":"b11","l":6,"x":0.974,"y":0.476},{"r":"b11","l":6,"x":1.0,"y":0.504},{"r":"b11","l":6,"x":1.21,"y":0.504},{"r":"b11","l":6,"x":1.21,"y":1.079},
{"r":"b12","l":7,"x":-0.021,"y":1.01},{"r":"b12","l":7,"x":0.005,"y":1.026},{"r":"b12","l":7,"x":0.03,"y":1.035},{"r":"b12","l":7,"x":0.047,"y":1.016},{"r":"b12","l":7,"x":0.05,"y":0.994},{"r":"b12","l":7,"x":0.047,"y":0.955},{"r":"b12","l":7,"x":0.03,"y":0.879},{"r":"b12","l":7,"x":0.012,"y":0.971},{"r":"b12","l":7,"x":0.005,"y":1.0},{"r":"b12","l":7,"x":-0.021,"y":1.01},
{"r":"b13","l":7,"x":1.025,"y":1.01},{"r":"b13","l":7,"x":1.0,"y":1.026},{"r":"b13","l":7,"x":0.972,"y":1.035},{"r":"b13","l":7,"x":0.955,"y":1.02},{"r":"b13","l":7,"x":0.95,"y":0.9875},{"r":"b13","l":7,"x":0.953,"y":0.955},{"r":"b13","l":7,"x":0.972,"y":0.869},{"r":"b13","l":7,"x":0.986,"y":0.939},{"r":"b13","l":7,"x":0.995,"y":1.0},{"r":"b13","l":7,"x":1.025,"y":1.01},
{"r":"b14","l":5,"x":-0.21,"y":1.04},{"r":"b14","l":5,"x":-0.164,"y":1.043},{"r":"b14","l":5,"x":-0.133,"y":1.039},{"r":"b14","l":5,"x":-0.149,"y":1.033},{"r":"b14","l":5,"x":-0.182,"y":1.033},{"r":"b14","l":5,"x":-0.21,"y":1.04},
{"r":"b15","l":5,"x":1.133,"y":1.039},{"r":"b15","l":5,"x":1.154,"y":1.043},{"r":"b15","l":5,"x":1.21,"y":1.04},{"r":"b15","l":5,"x":1.173,"y":1.033},{"r":"b15","l":5,"x":1.15,"y":1.033},{"r":"b15","l":5,"x":1.133,"y":1.039},
{"r":"b16","l":5,"x":0.117,"y":0.454},{"r":"b16","l":5,"x":0.154,"y":0.451},{"r":"b16","l":5,"x":0.178,"y":0.4424},{"r":"b16","l":5,"x":0.131,"y":0.4424},{"r":"b16","l":5,"x":0.117,"y":0.454},
{"r":"b17","l":5,"x":0.327,"y":0.444},{"r":"b17","l":5,"x":0.486,"y":0.445},{"r":"b17","l":5,"x":0.692,"y":0.444},{"r":"b17","l":5,"x":0.673,"y":0.427},{"r":"b17","l":5,"x":0.252,"y":0.427},{"r":"b17","l":5,"x":0.327,"y":0.444},
{"r":"b18","l":6,"x":0.439,"y":0.431},{"r":"b18","l":6,"x":0.495,"y":0.4395},{"r":"b18","l":6,"x":0.682,"y":0.4365},{"r":"b18","l":6,"x":0.673,"y":0.427},{"r":"b18","l":6,"x":0.439,"y":0.427},{"r":"b18","l":6,"x":0.439,"y":0.431},
{"r":"b19","l":7,"x":0.486,"y":0.431},{"r":"b19","l":7,"x":0.523,"y":0.434},{"r":"b19","l":7,"x":0.579,"y":0.432},{"r":"b19","l":7,"x":0.607,"y":0.427},{"r":"b19","l":7,"x":0.486,"y":0.427},{"r":"b19","l":7,"x":0.486,"y":0.431},
{"r":"b20","l":6,"x":0.231,"y":0.442},{"r":"b20","l":6,"x":0.278,"y":0.442},{"r":"b20","l":6,"x":0.308,"y":0.427},{"r":"b20","l":6,"x":0.248,"y":0.427},{"r":"b20","l":6,"x":0.231,"y":0.442},
{"r":"b21","l":7,"x":0.24,"y":0.438},{"r":"b21","l":7,"x":0.271,"y":0.438},{"r":"b21","l":7,"x":0.294,"y":0.427},{"r":"b21","l":7,"x":0.252,"y":0.427},{"r":"b21","l":7,"x":0.24,"y":0.438},
{"r":"b22","l":8,"x":0.248,"y":0.437},{"r":"b22","l":8,"x":0.266,"y":0.427},{"r":"b22","l":8,"x":0.257,"y":0.427},{"r":"b22","l":8,"x":0.248,"y":0.437},
{"r":"b23","l":6,"x":0.327,"y":0.427},{"r":"b23","l":6,"x":0.336,"y":0.4365},{"r":"b23","l":6,"x":0.35,"y":0.427},{"r":"b23","l":6,"x":0.327,"y":0.427},
{"r":"b24","l":6,"x":0.374,"y":0.427},{"r":"b24","l":6,"x":0.385,"y":0.4365},{"r":"b24","l":6,"x":0.407,"y":0.427},{"r":"b24","l":6,"x":0.374,"y":0.427}],
"MB":[
{"r":"m1","x":-0.21,"y":0.99},{"r":"m1","x":-0.21,"y":1.0093},{"r":"m1","x":-0.021,"y":1.0093},{"r":"m1","x":0,"y":0.99},
{"r":"m2","x":1,"y":0.99},{"r":"m2","x":1.025,"y":1.0093},{"r":"m2","x":1.21,"y":1.0093},{"r":"m2","x":1.21,"y":0.99},
{"r":"m3","x":0.002,"y":0.488},{"r":"m3","x":0.033,"y":0.47},{"r":"m3","x":0.056,"y":0.457},{"r":"m3","x":0.107,"y":0.457},{"r":"m3","x":0.133,"y":0.4424},{"r":"m3","x":0.234,"y":0.4424},{"r":"m3","x":0.25,"y":0.431},{"r":"m3","x":0.673,"y":0.431},{"r":"m3","x":0.692,"y":0.4424},{"r":"m3","x":0.869,"y":0.4424},{"r":"m3","x":0.894,"y":0.457},{"r":"m3","x":0.972,"y":0.457},{"r":"m3","x":1,"y":0.489},{"r":"m3","x":1,"y":0.42},{"r":"m3","x":0,"y":0.42}],
"C":[
{"r":"c1","l":3,"x":-0.21,"y":1.268},{"r":"c1","l":3,"x":-0.012,"y":1.275},{"r":"c1","l":3,"x":0.1,"y":1.274},{"r":"c1","l":3,"x":0.259,"y":1.268},{"r":"c1","l":3,"x":0.502,"y":1.268},{"r":"c1","l":3,"x":0.707,"y":1.269},{"r":"c1","l":3,"x":0.876,"y":1.275},{"r":"c1","l":3,"x":1.21,"y":1.269},{"r":"c1","l":3,"x":1.21,"y":1.3},{"r":"c1","l":3,"x":-0.21,"y":1.3},{"r":"c1","l":3,"x":-0.21,"y":1.268},
{"r":"c2","l":6,"x":-0.21,"y":1.215},{"r":"c2","l":6,"x":-0.19,"y":1.229},{"r":"c2","l":6,"x":-0.089,"y":1.242},{"r":"c2","l":6,"x":-0.079,"y":1.256},{"r":"c2","l":6,"x":0.1,"y":1.256},{"r":"c2","l":6,"x":0.107,"y":1.242},{"r":"c2","l":6,"x":0.17,"y":1.228},{"r":"c2","l":6,"x":0.165,"y":1.206},{"r":"c2","l":6,"x":0.184,"y":1.182},{"r":"c2","l":6,"x":0.182,"y":1.153},{"r":"c2","l":6,"x":0.175,"y":1.082},{"r":"c2","l":6,"x":0.181,"y":1.024},{"r":"c2","l":6,"x":0.179,"y":1.0},{"r":"c2","l":6,"x":0.165,"y":0.929},{"r":"c2","l":6,"x":0.147,"y":0.847},{"r":"c2","l":6,"x":0.133,"y":0.776},{"r":"c2","l":6,"x":0.119,"y":0.659},{"r":"c2","l":6,"x":0.107,"y":0.559},{"r":"c2","l":6,"x":0.095,"y":0.541},{"r":"c2","l":6,"x":0.086,"y":0.503},{"r":"c2","l":6,"x":0.067,"y":0.5},{"r":"c2","l":6,"x":0.079,"y":0.485},{"r":"c2","l":6,"x":0.044,"y":0.468},{"r":"c2","l":6,"x":0.025,"y":0.476},{"r":"c2","l":6,"x":0.007,"y":0.491},{"r":"c2","l":6,"x":0.021,"y":0.518},{"r":"c2","l":6,"x":0.03,"y":0.547},{"r":"c2","l":6,"x":0.035,"y":0.718},{"r":"c2","l":6,"x":0.035,"y":0.976},{"r":"c2","l":6,"x":0.025,"y":1.0},{"r":"c2","l":6,"x":-0.21,"y":1.0},{"r":"c2","l":6,"x":-0.21,"y":1.215},
{"r":"c3","l":6,"x":1.21,"y":1.215},{"r":"c3","l":6,"x":1.184,"y":1.228},{"r":"c3","l":6,"x":1.105,"y":1.242},{"r":"c3","l":6,"x":1.102,"y":1.256},{"r":"c3","l":6,"x":0.885,"y":1.258},{"r":"c3","l":6,"x":0.874,"y":1.242},{"r":"c3","l":6,"x":0.82,"y":1.228},{"r":"c3","l":6,"x":0.827,"y":1.206},{"r":"c3","l":6,"x":0.815,"y":1.182},{"r":"c3","l":6,"x":0.813,"y":1.153},{"r":"c3","l":6,"x":0.82,"y":1.082},{"r":"c3","l":6,"x":0.818,"y":1.024},{"r":"c3","l":6,"x":0.818,"y":1.0},{"r":"c3","l":6,"x":0.829,"y":0.929},{"r":"c3","l":6,"x":0.848,"y":0.847},{"r":"c3","l":6,"x":0.866,"y":0.776},{"r":"c3","l":6,"x":0.885,"y":0.659},{"r":"c3","l":6,"x":0.894,"y":0.576},{"r":"c3","l":6,"x":0.918,"y":0.518},{"r":"c3","l":6,"x":0.939,"y":0.5},{"r":"c3","l":6,"x":0.935,"y":0.482},{"r":"c3","l":6,"x":0.974,"y":0.485},{"r":"c3","l":6,"x":0.997,"y":0.491},{"r":"c3","l":6,"x":0.974,"y":0.547},{"r":"c3","l":6,"x":0.964,"y":0.718},{"r":"c3","l":6,"x":0.967,"y":0.976},{"r":"c3","l":6,"x":0.974,"y":1.0},{"r":"c3","l":6,"x":1.21,"y":1.0},{"r":"c3","l":6,"x":1.21,"y":1.215},
{"r":"c4","l":3,"x":0.488,"y":0.9},{"r":"c4","l":3,"x":0.502,"y":0.871},{"r":"c4","l":3,"x":0.535,"y":0.86},{"r":"c4","l":3,"x":0.539,"y":0.852},{"r":"c4","l":3,"x":0.558,"y":0.864},{"r":"c4","l":3,"x":0.591,"y":0.879},{"r":"c4","l":3,"x":0.577,"y":0.865},{"r":"c4","l":3,"x":0.647,"y":0.853},{"r":"c4","l":3,"x":0.684,"y":0.821},{"r":"c4","l":3,"x":0.726,"y":0.776},{"r":"c4","l":3,"x":0.745,"y":0.729},{"r":"c4","l":3,"x":0.768,"y":0.676},{"r":"c4","l":3,"x":0.773,"y":0.618},{"r":"c4","l":3,"x":0.764,"y":0.585},{"r":"c4","l":3,"x":0.717,"y":0.553},{"r":"c4","l":3,"x":0.693,"y":0.54},{"r":"c4","l":3,"x":0.642,"y":0.531},{"r":"c4","l":3,"x":0.591,"y":0.528},{"r":"c4","l":3,"x":0.539,"y":0.538},{"r":"c4","l":3,"x":0.493,"y":0.529},{"r":"c4","l":3,"x":0.463,"y":0.541},{"r":"c4","l":3,"x":0.436,"y":0.531},{"r":"c4","l":3,"x":0.352,"y":0.532},{"r":"c4","l":3,"x":0.292,"y":0.546},{"r":"c4","l":3,"x":0.282,"y":0.559},{"r":"c4","l":3,"x":0.259,"y":0.562},{"r":"c4","l":3,"x":0.236,"y":0.588},{"r":"c4","l":3,"x":0.226,"y":0.635},{"r":"c4","l":3,"x":0.236,"y":0.688},{"r":"c4","l":3,"x":0.254,"y":0.747},{"r":"c4","l":3,"x":0.282,"y":0.788},{"r":"c4","l":3,"x":0.31,"y":0.821},{"r":"c4","l":3,"x":0.385,"y":0.868},{"r":"c4","l":3,"x":0.418,"y":0.875},{"r":"c4","l":3,"x":0.463,"y":0.869},{"r":"c4","l":3,"x":0.488,"y":0.9},
{"r":"c5","l":5,"x":0.455,"y":0.852},{"r":"c5","l":5,"x":0.461,"y":0.858},{"r":"c5","l":5,"x":0.466,"y":0.852},{"r":"c5","l":5,"x":0.461,"y":0.846},{"r":"c5","l":5,"x":0.455,"y":0.852},
{"r":"c6","l":8,"x":-0.003,"y":1.156},{"r":"c6","l":8,"x":0.007,"y":1.156},{"r":"c6","l":8,"x":0.007,"y":1.139},{"r":"c6","l":8,"x":-0.003,"y":1.139},{"r":"c6","l":8,"x":-0.003,"y":1.156},
{"r":"c7","l":8,"x":0.99,"y":1.156},{"r":"c7","l":8,"x":0.999,"y":1.163},{"r":"c7","l":8,"x":1.025,"y":1.165},{"r":"c7","l":8,"x":1.032,"y":1.156},{"r":"c7","l":8,"x":0.997,"y":1.139},{"r":"c7","l":8,"x":0.99,"y":1.156},
{"r":"c8","l":8,"x":-0.134,"y":1.025},{"r":"c8","l":8,"x":-0.11,"y":1.028},{"r":"c8","l":8,"x":-0.087,"y":1.025},{"r":"c8","l":8,"x":-0.11,"y":1.021},{"r":"c8","l":8,"x":-0.134,"y":1.025},
{"r":"c9","l":8,"x":1.089,"y":1.025},{"r":"c9","l":8,"x":1.111,"y":1.028},{"r":"c9","l":8,"x":1.136,"y":1.025},{"r":"c9","l":8,"x":1.111,"y":1.021},{"r":"c9","l":8,"x":1.089,"y":1.025},
{"r":"c10","l":6,"x":0.133,"y":0.4588},{"r":"c10","l":6,"x":0.161,"y":0.466},{"r":"c10","l":6,"x":0.334,"y":0.4635},{"r":"c10","l":6,"x":0.408,"y":0.457},{"r":"c10","l":6,"x":0.46,"y":0.46},{"r":"c10","l":6,"x":0.493,"y":0.452},{"r":"c10","l":6,"x":0.539,"y":0.459},{"r":"c10","l":6,"x":0.567,"y":0.455},{"r":"c10","l":6,"x":0.81,"y":0.465},{"r":"c10","l":6,"x":0.829,"y":0.457},{"r":"c10","l":6,"x":0.764,"y":0.441},{"r":"c10","l":6,"x":0.133,"y":0.441},{"r":"c10","l":6,"x":0.133,"y":0.4588},
{"r":"c11","l":5,"x":0.234,"y":0.441},{"r":"c11","l":5,"x":0.7,"y":0.441},{"r":"c11","l":5,"x":0.66,"y":0.427},{"r":"c11","l":5,"x":0.25,"y":0.427},{"r":"c11","l":5,"x":0.234,"y":0.441},
{"r":"c12","l":6,"x":0.539,"y":0.427},{"r":"c12","l":6,"x":0.586,"y":0.44},{"r":"c12","l":6,"x":0.642,"y":0.427},{"r":"c12","l":6,"x":0.539,"y":0.427},
{"r":"c13","l":6,"x":0.25,"y":0.435},{"r":"c13","l":6,"x":0.306,"y":0.441},{"r":"c13","l":6,"x":0.334,"y":0.427},{"r":"c13","l":6,"x":0.25,"y":0.427},{"r":"c13","l":6,"x":0.25,"y":0.435},
{"r":"c14","l":8,"x":0.282,"y":0.432},{"r":"c14","l":8,"x":0.314,"y":0.438},{"r":"c14","l":8,"x":0.313,"y":0.427},{"r":"c14","l":8,"x":0.282,"y":0.432},
{"r":"c15","l":8,"x":0.908,"y":0.459},{"r":"c15","l":8,"x":0.946,"y":0.465},{"r":"c15","l":8,"x":0.942,"y":0.459},{"r":"c15","l":8,"x":0.908,"y":0.459},
{"r":"c16","l":8,"x":0.114,"y":0.453},{"r":"c16","l":8,"x":0.137,"y":0.453},{"r":"c16","l":8,"x":0.128,"y":0.444},{"r":"c16","l":8,"x":0.114,"y":0.453}],
"MC":[
{"r":"m1","x":-0.21,"y":0.99},{"r":"m1","x":-0.21,"y":1.0088},{"r":"m1","x":-0.02,"y":1.0088},{"r":"m1","x":0,"y":1.0},{"r":"m1","x":0,"y":0.99},
{"r":"m2","x":1,"y":0.99},{"r":"m2","x":1,"y":1.0},{"r":"m2","x":1.02,"y":1.0088},{"r":"m2","x":1.21,"y":1.0088},{"r":"m2","x":1.21,"y":0.99},
{"r":"m3","x":0,"y":0.494},{"r":"m3","x":0.053,"y":0.459},{"r":"m3","x":0.105,"y":0.459},{"r":"m3","x":0.137,"y":0.444},{"r":"m3","x":0.236,"y":0.444},{"r":"m3","x":0.259,"y":0.429},{"r":"m3","x":0.665,"y":0.429},{"r":"m3","x":0.693,"y":0.444},{"r":"m3","x":0.871,"y":0.444},{"r":"m3","x":0.89,"y":0.459},{"r":"m3","x":0.95,"y":0.459},{"r":"m3","x":0.974,"y":0.471},{"r":"m3","x":1,"y":0.497},{"r":"m3","x":1,"y":0.42},{"r":"m3","x":0,"y":0.42}],
"D":[
{"r":"d1","l":5,"x":-0.21,"y":1.259},{"r":"d1","l":5,"x":-0.028,"y":1.2635},{"r":"d1","l":5,"x":0.178,"y":1.266},{"r":"d1","l":5,"x":0.229,"y":1.271},{"r":"d1","l":5,"x":0.262,"y":1.266},{"r":"d1","l":5,"x":0.327,"y":1.262},{"r":"d1","l":5,"x":0.439,"y":1.26},{"r":"d1","l":5,"x":0.509,"y":1.253},{"r":"d1","l":5,"x":0.589,"y":1.259},{"r":"d1","l":5,"x":0.692,"y":1.266},{"r":"d1","l":5,"x":0.71,"y":1.271},{"r":"d1","l":5,"x":0.804,"y":1.271},{"r":"d1","l":5,"x":0.879,"y":1.2635},{"r":"d1","l":5,"x":1.0,"y":1.26},{"r":"d1","l":5,"x":1.21,"y":1.258},{"r":"d1","l":5,"x":1.21,"y":1.3},{"r":"d1","l":5,"x":-0.21,"y":1.3},{"r":"d1","l":5,"x":-0.21,"y":1.259},
{"r":"d2","l":3,"x":-0.21,"y":1.271},{"r":"d2","l":3,"x":-0.028,"y":1.278},{"r":"d2","l":3,"x":0.206,"y":1.281},{"r":"d2","l":3,"x":0.533,"y":1.279},{"r":"d2","l":3,"x":0.86,"y":1.279},{"r":"d2","l":3,"x":1.093,"y":1.272},{"r":"d2","l":3,"x":1.21,"y":1.272},{"r":"d2","l":3,"x":1.21,"y":1.3},{"r":"d2","l":3,"x":-0.21,"y":1.3},{"r":"d2","l":3,"x":-0.21,"y":1.271},
{"r":"d3","l":5,"x":-0.21,"y":1.034},{"r":"d3","l":5,"x":-0.047,"y":1.034},{"r":"d3","l":5,"x":-0.007,"y":1.0235},{"r":"d3","l":5,"x":-0.051,"y":1.01},{"r":"d3","l":5,"x":-0.121,"y":1.0135},{"r":"d3","l":5,"x":-0.21,"y":1.012},{"r":"d3","l":5,"x":-0.21,"y":1.034},
{"r":"d4","l":5,"x":1.21,"y":1.034},{"r":"d4","l":5,"x":1.047,"y":1.034},{"r":"d4","l":5,"x":1.009,"y":1.0235},{"r":"d4","l":5,"x":1.042,"y":1.01},{"r":"d4","l":5,"x":1.103,"y":1.0135},{"r":"d4","l":5,"x":1.21,"y":1.0135},{"r":"d4","l":5,"x":1.21,"y":1.034},
{"r":"d5","l":5,"x":-0.014,"y":1.006},{"r":"d5","l":5,"x":0.03,"y":1.018},{"r":"d5","l":5,"x":0.047,"y":0.997},{"r":"d5","l":5,"x":0.049,"y":0.718},{"r":"d5","l":5,"x":0.047,"y":0.541},{"r":"d5","l":5,"x":0.056,"y":0.491},{"r":"d5","l":5,"x":0.056,"y":0.42},{"r":"d5","l":5,"x":-0.014,"y":0.42},{"r":"d5","l":5,"x":-0.014,"y":1.006},
{"r":"d6","l":5,"x":1.019,"y":1.006},{"r":"d6","l":5,"x":0.97,"y":1.018},{"r":"d6","l":5,"x":0.953,"y":0.997},{"r":"d6","l":5,"x":0.951,"y":0.718},{"r":"d6","l":5,"x":0.953,"y":0.541},{"r":"d6","l":5,"x":0.946,"y":0.494},{"r":"d6","l":5,"x":0.946,"y":0.42},{"r":"d6","l":5,"x":1.019,"y":0.42},{"r":"d6","l":5,"x":1.019,"y":1.006},
{"r":"d7","l":3,"x":0,"y":0.979},{"r":"d7","l":3,"x":0.03,"y":0.924},{"r":"d7","l":3,"x":0.036,"y":0.835},{"r":"d7","l":3,"x":0.036,"y":0.5},{"r":"d7","l":3,"x":0.03,"y":0.506},{"r":"d7","l":3,"x":0.019,"y":0.559},{"r":"d7","l":3,"x":0,"y":0.618},{"r":"d7","l":3,"x":0,"y":0.979},
{"r":"d8","l":3,"x":0,"y":0.488},{"r":"d8","l":3,"x":0.03,"y":0.497},{"r":"d8","l":3,"x":0.037,"y":0.471},{"r":"d8","l":3,"x":0,"y":0.488},
{"r":"d9","l":3,"x":1,"y":0.979},{"r":"d9","l":3,"x":0.972,"y":0.926},{"r":"d9","l":3,"x":0.964,"y":0.835},{"r":"d9","l":3,"x":0.964,"y":0.659},{"r":"d9","l":3,"x":0.97,"y":0.494},{"r":"d9","l":3,"x":0.981,"y":0.541},{"r":"d9","l":3,"x":1,"y":0.612},{"r":"d9","l":3,"x":1,"y":0.979},
{"r":"d10","l":5,"x":0.056,"y":0.491},{"r":"d10","l":5,"x":0.079,"y":0.515},{"r":"d10","l":5,"x":0.107,"y":0.531},{"r":"d10","l":5,"x":0.114,"y":0.547},{"r":"d10","l":5,"x":0.185,"y":0.559},{"r":"d10","l":5,"x":0.185,"y":0.588},{"r":"d10","l":5,"x":0.207,"y":0.603},{"r":"d10","l":5,"x":0.201,"y":0.621},{"r":"d10","l":5,"x":0.232,"y":0.641},{"r":"d10","l":5,"x":0.266,"y":0.644},{"r":"d10","l":5,"x":0.278,"y":0.676},{"r":"d10","l":5,"x":0.308,"y":0.691},{"r":"d10","l":5,"x":0.29,"y":0.675},{"r":"d10","l":5,"x":0.304,"y":0.669},{"r":"d10","l":5,"x":0.346,"y":0.666},{"r":"d10","l":5,"x":0.36,"y":0.65},{"r":"d10","l":5,"x":0.383,"y":0.668},{"r":"d10","l":5,"x":0.411,"y":0.668},{"r":"d10","l":5,"x":0.437,"y":0.647},{"r":"d10","l":5,"x":0.442,"y":0.629},{"r":"d10","l":5,"x":0.463,"y":0.6},{"r":"d10","l":5,"x":0.475,"y":0.606},{"r":"d10","l":5,"x":0.484,"y":0.626},{"r":"d10","l":5,"x":0.5,"y":0.609},{"r":"d10","l":5,"x":0.505,"y":0.588},{"r":"d10","l":5,"x":0.512,"y":0.575},{"r":"d10","l":5,"x":0.519,"y":0.579},{"r":"d10","l":5,"x":0.523,"y":0.621},{"r":"d10","l":5,"x":0.561,"y":0.635},{"r":"d10","l":5,"x":0.589,"y":0.672},{"r":"d10","l":5,"x":0.64,"y":0.674},{"r":"d10","l":5,"x":0.636,"y":0.693},{"r":"d10","l":5,"x":0.645,"y":0.693},{"r":"d10","l":5,"x":0.65,"y":0.676},{"r":"d10","l":5,"x":0.673,"y":0.669},{"r":"d10","l":5,"x":0.72,"y":0.665},{"r":"d10","l":5,"x":0.72,"y":0.648},{"r":"d10","l":5,"x":0.766,"y":0.639},{"r":"d10","l":5,"x":0.804,"y":0.621},{"r":"d10","l":5,"x":0.802,"y":0.603},{"r":"d10","l":5,"x":0.827,"y":0.591},{"r":"d10","l":5,"x":0.832,"y":0.576},{"r":"d10","l":5,"x":0.864,"y":0.559},{"r":"d10","l":5,"x":0.869,"y":0.544},{"r":"d10","l":5,"x":0.944,"y":0.497},{"r":"d10","l":5,"x":0.949,"y":0.494},{"r":"d10","l":5,"x":0.953,"y":0.42},{"r":"d10","l":5,"x":0.056,"y":0.42},{"r":"d10","l":5,"x":0.056,"y":0.491},
{"r":"d11","l":6,"x":0.477,"y":0.56},{"r":"d11","l":6,"x":0.512,"y":0.574},{"r":"d11","l":6,"x":0.528,"y":0.546},{"r":"d11","l":6,"x":0.512,"y":0.543},{"r":"d11","l":6,"x":0.477,"y":0.56},
{"r":"d12","l":6,"x":0.325,"y":0.516},{"r":"d12","l":6,"x":0.36,"y":0.524},{"r":"d12","l":6,"x":0.383,"y":0.518},{"r":"d12","l":6,"x":0.435,"y":0.522},{"r":"d12","l":6,"x":0.463,"y":0.516},{"r":"d12","l":6,"x":0.486,"y":0.526},{"r":"d12","l":6,"x":0.561,"y":0.531},{"r":"d12","l":6,"x":0.589,"y":0.521},{"r":"d12","l":6,"x":0.612,"y":0.524},{"r":"d12","l":6,"x":0.64,"y":0.516},{"r":"d12","l":6,"x":0.612,"y":0.509},{"r":"d12","l":6,"x":0.561,"y":0.512},{"r":"d12","l":6,"x":0.514,"y":0.503},{"r":"d12","l":6,"x":0.491,"y":0.503},{"r":"d12","l":6,"x":0.463,"y":0.516},{"r":"d12","l":6,"x":0.439,"y":0.499},{"r":"d12","l":6,"x":0.411,"y":0.515},{"r":"d12","l":6,"x":0.383,"y":0.515},{"r":"d12","l":6,"x":0.36,"y":0.509},{"r":"d12","l":6,"x":0.325,"y":0.516},
{"r":"d13","l":6,"x":0.12,"y":0.459},{"r":"d13","l":6,"x":0.131,"y":0.465},{"r":"d13","l":6,"x":0.138,"y":0.459},{"r":"d13","l":6,"x":0.129,"y":0.454},{"r":"d13","l":6,"x":0.12,"y":0.459},
{"r":"d14","l":6,"x":0.042,"y":0.459},{"r":"d14","l":6,"x":0.056,"y":0.471},{"r":"d14","l":6,"x":0.07,"y":0.459},{"r":"d14","l":6,"x":0.042,"y":0.459},
{"r":"d15","l":6,"x":0.822,"y":0.444},{"r":"d15","l":6,"x":0.843,"y":0.457},{"r":"d15","l":6,"x":0.879,"y":0.447},{"r":"d15","l":6,"x":0.869,"y":0.444},{"r":"d15","l":6,"x":0.822,"y":0.444},
{"r":"d16","l":8,"x":0.838,"y":0.445},{"r":"d16","l":8,"x":0.845,"y":0.45},{"r":"d16","l":8,"x":0.853,"y":0.445},{"r":"d16","l":8,"x":0.838,"y":0.445},
{"r":"d17","l":6,"x":0.168,"y":0.444},{"r":"d17","l":6,"x":0.182,"y":0.452},{"r":"d17","l":6,"x":0.201,"y":0.444},{"r":"d17","l":6,"x":0.168,"y":0.444},
{"r":"d18","l":6,"x":0.383,"y":0.438},{"r":"d18","l":6,"x":0.533,"y":0.441},{"r":"d18","l":6,"x":0.617,"y":0.436},{"r":"d18","l":6,"x":0.654,"y":0.438},{"r":"d18","l":6,"x":0.626,"y":0.427},{"r":"d18","l":6,"x":0.374,"y":0.427},{"r":"d18","l":6,"x":0.383,"y":0.438},
{"r":"d19","l":7,"x":0.542,"y":0.427},{"r":"d19","l":7,"x":0.565,"y":0.4365},{"r":"d19","l":7,"x":0.598,"y":0.427},{"r":"d19","l":7,"x":0.542,"y":0.427},
{"r":"d20","l":6,"x":0,"y":0.541},{"r":"d20","l":6,"x":0.014,"y":0.503},{"r":"d20","l":6,"x":0,"y":0.488},{"r":"d20","l":6,"x":0,"y":0.541},
{"r":"d21","l":6,"x":1,"y":0.53},{"r":"d21","l":6,"x":0.986,"y":0.494},{"r":"d21","l":6,"x":1,"y":0.48},{"r":"d21","l":6,"x":1,"y":0.53}],
"MD":[
{"r":"m1","x":-0.21,"y":0.99},{"r":"m1","x":-0.21,"y":1.0088},{"r":"m1","x":-0.023,"y":1.0088},{"r":"m1","x":0,"y":1.0},{"r":"m1","x":0,"y":0.99},
{"r":"m2","x":1,"y":0.99},{"r":"m2","x":1,"y":1.0},{"r":"m2","x":1.02,"y":1.0088},{"r":"m2","x":1.21,"y":1.0088},{"r":"m2","x":1.21,"y":0.99},
{"r":"m3","x":0.002,"y":0.485},{"r":"m3","x":0.037,"y":0.468},{"r":"m3","x":0.056,"y":0.459},{"r":"m3","x":0.107,"y":0.459},{"r":"m3","x":0.131,"y":0.444},{"r":"m3","x":0.234,"y":0.444},{"r":"m3","x":0.243,"y":0.4294},{"r":"m3","x":0.654,"y":0.4294},{"r":"m3","x":0.678,"y":0.444},{"r":"m3","x":0.879,"y":0.444},{"r":"m3","x":0.897,"y":0.459},{"r":"m3","x":0.972,"y":0.459},{"r":"m3","x":0.998,"y":0.494},{"r":"m3","x":1,"y":0.42},{"r":"m3","x":0,"y":0.42}]
},
"spacing":{"row":631,"column":167},
"columns":4,
"bounds":"flush",
"concat":[
{"width":1100,"height":1056,"title":{"text":"vₜ = 8 m/s, ϕ = 80%","fontSize":54,"fontWeight":"normal","font":"Liberation Sans","offset":16},
"layer":[
{"data":{"name":"frame"},"mark":{"type":"rect","fill":"#00ff80"},"encoding":{"x":{"field":"x","type":"quantitative","scale":{"domain":[-0.2,1.2],"nice":false,"zero":false},"axis":{"title":"x/D (−)","values":[-0.125,0,0.125,0.25,0.375,0.5,0.625,0.75,0.875,1,1.125],"tickSize":{"condition":{"test":"abs(datum.value*4-round(datum.value*4))<0.01","value":18},"value":9},"labelExpr":"abs(datum.value*4-round(datum.value*4))<0.01?format(datum.value,'.2f'):''","labelPadding":22,"titlePadding":36}},"x2":{"field":"x2"},"y":{"field":"y","type":"quantitative","scale":{"domain":[0.43,1.285],"nice":false,"zero":false},"axis":{"title":"r/R (−)","values":[0.5,0.6,0.7,0.8,0.9,1,1.1,1.2],"tickSize":{"condition":{"test":"abs(datum.value*5-round(datum.value*5))<0.01","value":18},"value":9},"labelExpr":"abs(datum.value*5-round(datum.value*5))<0.01?format(datum.value,'.1f'):''","labelPadding":20,"titlePadding":36}},"y2":{"field":"y2"}}},
{"data":{"name":"A"},"mark":{"type":"line","stroke":"#666666","strokeWidth":3,"clip":true},"encoding":{"x":{"field":"x","type":"quantitative"},"y":{"field":"y","type":"quantitative"},"fill":{"field":"l","type":"ordinal","scale":{"domain":[1,2,3,4,5,6,7,8],"range":["#0000ff","#0080ff","#00ffff","#00ff80","#00ff00","#ffff00","#ff8000","#ff0000"]},"legend":null},"detail":{"field":"r"},"order":{"value":null}}},
{"data":{"name":"MA"},"mark":{"type":"line","stroke":null,"fill":"white","clip":true},"encoding":{"x":{"field":"x","type":"quantitative"},"y":{"field":"y","type":"quantitative"},"detail":{"field":"r"},"order":{"value":null}}},
{"data":{"name":"walls"},"mark":{"type":"rect","fill":"#d0d0d0","stroke":"black","strokeWidth":2.5},"encoding":{"x":{"field":"x","type":"quantitative"},"x2":{"field":"x2"},"y":{"field":"y","type":"quantitative"},"y2":{"field":"y2"}}},
{"data":{"name":"hatch"},"mark":{"type":"rule","stroke":"#9a9a9a","strokeWidth":3},"encoding":{"x":{"field":"x","type":"quantitative"},"x2":{"field":"x2"},"y":{"field":"y","type":"quantitative"},"y2":{"field":"y2"}}},
{"data":{"name":"frame"},"mark":{"type":"rect","filled":false,"stroke":"black","strokeWidth":4},"encoding":{"x":{"field":"x","type":"quantitative"},"x2":{"field":"x2"},"y":{"field":"y","type":"quantitative"},"y2":{"field":"y2"}}},
{"data":{"values":[{"c":"(a)"}]},"mark":{"type":"text","font":"Liberation Serif","fontWeight":"bold","fontSize":70},"encoding":{"text":{"field":"c"},"x":{"datum":0.685,"type":"quantitative"},"y":{"datum":0.134,"type":"quantitative"}}}
]},
{"width":746,"height":1056,
"layer":[
{"data":{"name":"barE"},"mark":{"type":"rect"},"encoding":{"x":{"datum":0,"type":"quantitative","scale":{"domain":[0,8.575],"nice":false,"zero":false},"axis":null},"x2":{"datum":1},"y":{"field":"lo","type":"quantitative","scale":{"domain":[-0.098,8.101],"nice":false,"zero":false},"axis":null},"y2":{"field":"hi"},"fill":{"field":"l","type":"ordinal","scale":{"domain":[1,2,3,4,5,6,7,8],"range":["#0000ff","#0080ff","#00ffff","#00ff80","#00ff00","#ffff00","#ff8000","#ff0000"]},"legend":null}}},
{"data":{"values":[{"lo":0,"hi":8}]},"mark":{"type":"rect","filled":false,"stroke":"black","strokeWidth":3.5},"encoding":{"x":{"datum":0,"type":"quantitative","axis":null},"x2":{"datum":1},"y":{"field":"lo","type":"quantitative","axis":null},"y2":{"field":"hi"}}},
{"data":{"name":"tickE"},"mark":{"type":"rule","stroke":"black","strokeWidth":3.5},"encoding":{"x":{"datum":1,"type":"quantitative","axis":null},"x2":{"datum":1.25},"y":{"field":"v","type":"quantitative","axis":null}}},
{"data":{"name":"tickE"},"mark":{"type":"text","align":"left","baseline":"middle","fontSize":34,"dy":3},"encoding":{"text":{"field":"t"},"x":{"datum":1.45,"type":"quantitative","axis":null},"y":{"field":"v","type":"quantitative","axis":null}}},
{"data":{"values":[{"t":"SEₜₙ"}]},"mark":{"type":"text","fontSize":54,"fontStyle":"italic","align":"right"},"encoding":{"text":{"field":"t"},"x":{"datum":0.7,"type":"quantitative","axis":null},"y":{"datum":8.5,"type":"quantitative","axis":null}}},
{"data":{"values":[{"t":"(J)"}]},"mark":{"type":"text","fontSize":54,"align":"left"},"encoding":{"text":{"field":"t"},"x":{"datum":0.86,"type":"quantitative","axis":null},"y":{"datum":8.5,"type":"quantitative","axis":null}}}
]},
{"width":1100,"height":1056,"title":{"text":"vₜ = 8 m/s, ϕ = 80%","fontSize":54,"fontWeight":"normal","font":"Liberation Sans","offset":16},
"layer":[
{"data":{"name":"frame"},"mark":{"type":"rect","fill":"#00ff80"},"encoding":{"x":{"field":"x","type":"quantitative","scale":{"domain":[-0.2,1.2],"nice":false,"zero":false},"axis":{"title":"x/D (−)","values":[-0.125,0,0.125,0.25,0.375,0.5,0.625,0.75,0.875,1,1.125],"tickSize":{"condition":{"test":"abs(datum.value*4-round(datum.value*4))<0.01","value":18},"value":9},"labelExpr":"abs(datum.value*4-round(datum.value*4))<0.01?format(datum.value,'.2f'):''","labelPadding":22,"titlePadding":36}},"x2":{"field":"x2"},"y":{"field":"y","type":"quantitative","scale":{"domain":[0.43,1.285],"nice":false,"zero":false},"axis":{"title":"r/R (−)","values":[0.5,0.6,0.7,0.8,0.9,1,1.1,1.2],"tickSize":{"condition":{"test":"abs(datum.value*5-round(datum.value*5))<0.01","value":18},"value":9},"labelExpr":"abs(datum.value*5-round(datum.value*5))<0.01?format(datum.value,'.1f'):''","labelPadding":20,"titlePadding":36}},"y2":{"field":"y2"}}},
{"data":{"name":"B"},"mark":{"type":"line","stroke":"#666666","strokeWidth":3,"clip":true},"encoding":{"x":{"field":"x","type":"quantitative"},"y":{"field":"y","type":"quantitative"},"fill":{"field":"l","type":"ordinal","scale":{"domain":[1,2,3,4,5,6,7,8],"range":["#0000ff","#0080ff","#00ffff","#00ff80","#00ff00","#ffff00","#ff8000","#ff0000"]},"legend":null},"detail":{"field":"r"},"order":{"value":null}}},
{"data":{"name":"MB"},"mark":{"type":"line","stroke":null,"fill":"white","clip":true},"encoding":{"x":{"field":"x","type":"quantitative"},"y":{"field":"y","type":"quantitative"},"detail":{"field":"r"},"order":{"value":null}}},
{"data":{"name":"walls"},"mark":{"type":"rect","fill":"#d0d0d0","stroke":"black","strokeWidth":2.5},"encoding":{"x":{"field":"x","type":"quantitative"},"x2":{"field":"x2"},"y":{"field":"y","type":"quantitative"},"y2":{"field":"y2"}}},
{"data":{"name":"hatch"},"mark":{"type":"rule","stroke":"#9a9a9a","strokeWidth":3},"encoding":{"x":{"field":"x","type":"quantitative"},"x2":{"field":"x2"},"y":{"field":"y","type":"quantitative"},"y2":{"field":"y2"}}},
{"data":{"name":"frame"},"mark":{"type":"rect","filled":false,"stroke":"black","strokeWidth":4},"encoding":{"x":{"field":"x","type":"quantitative"},"x2":{"field":"x2"},"y":{"field":"y","type":"quantitative"},"y2":{"field":"y2"}}},
{"data":{"values":[{"c":"(b)"}]},"mark":{"type":"text","font":"Liberation Serif","fontWeight":"bold","fontSize":70},"encoding":{"text":{"field":"c"},"x":{"datum":0.685,"type":"quantitative"},"y":{"datum":0.134,"type":"quantitative"}}}
]},
{"width":331,"height":1056,
"layer":[
{"data":{"name":"barE"},"mark":{"type":"rect"},"encoding":{"x":{"datum":0,"type":"quantitative","scale":{"domain":[0,3.805],"nice":false,"zero":false},"axis":null},"x2":{"datum":1},"y":{"field":"lo","type":"quantitative","scale":{"domain":[-0.098,8.101],"nice":false,"zero":false},"axis":null},"y2":{"field":"hi"},"fill":{"field":"l","type":"ordinal","scale":{"domain":[1,2,3,4,5,6,7,8],"range":["#0000ff","#0080ff","#00ffff","#00ff80","#00ff00","#ffff00","#ff8000","#ff0000"]},"legend":null}}},
{"data":{"values":[{"lo":0,"hi":8}]},"mark":{"type":"rect","filled":false,"stroke":"black","strokeWidth":3.5},"encoding":{"x":{"datum":0,"type":"quantitative","axis":null},"x2":{"datum":1},"y":{"field":"lo","type":"quantitative","axis":null},"y2":{"field":"hi"}}},
{"data":{"name":"tickE"},"mark":{"type":"rule","stroke":"black","strokeWidth":3.5},"encoding":{"x":{"datum":1,"type":"quantitative","axis":null},"x2":{"datum":1.25},"y":{"field":"v","type":"quantitative","axis":null}}},
{"data":{"name":"tickE"},"mark":{"type":"text","align":"left","baseline":"middle","fontSize":34,"dy":3},"encoding":{"text":{"field":"t"},"x":{"datum":1.45,"type":"quantitative","axis":null},"y":{"field":"v","type":"quantitative","axis":null}}},
{"data":{"values":[{"t":"SEₜₛ"}]},"mark":{"type":"text","fontSize":54,"fontStyle":"italic","align":"right"},"encoding":{"text":{"field":"t"},"x":{"datum":0.7,"type":"quantitative","axis":null},"y":{"datum":8.5,"type":"quantitative","axis":null}}},
{"data":{"values":[{"t":"(J)"}]},"mark":{"type":"text","fontSize":54,"align":"left"},"encoding":{"text":{"field":"t"},"x":{"datum":0.86,"type":"quantitative","axis":null},"y":{"datum":8.5,"type":"quantitative","axis":null}}}
]},
{"width":1100,"height":1056,"title":{"text":"vₜ = 8 m/s, ϕ = 80%","fontSize":54,"fontWeight":"normal","font":"Liberation Sans","offset":16,"dx":15},
"layer":[
{"data":{"name":"frame"},"mark":{"type":"rect","fill":"#00ff00"},"encoding":{"x":{"field":"x","type":"quantitative","scale":{"domain":[-0.2,1.2],"nice":false,"zero":false},"axis":{"title":"x/D","values":[-0.125,0,0.125,0.25,0.375,0.5,0.625,0.75,0.875,1,1.125],"tickSize":{"condition":{"test":"abs(datum.value*4-round(datum.value*4))<0.01","value":18},"value":9},"labelExpr":"abs(datum.value*4-round(datum.value*4))<0.01?format(datum.value,'.2f'):''","labelPadding":22,"titlePadding":36}},"x2":{"field":"x2"},"y":{"field":"y","type":"quantitative","scale":{"domain":[0.43,1.285],"nice":false,"zero":false},"axis":{"title":"r/R","values":[0.5,0.6,0.7,0.8,0.9,1,1.1,1.2],"tickSize":{"condition":{"test":"abs(datum.value*5-round(datum.value*5))<0.01","value":18},"value":9},"labelExpr":"abs(datum.value*5-round(datum.value*5))<0.01?format(datum.value,'.1f'):''","labelPadding":20,"titlePadding":36}},"y2":{"field":"y2"}}},
{"data":{"name":"C"},"mark":{"type":"line","stroke":"#666666","strokeWidth":3,"clip":true},"encoding":{"x":{"field":"x","type":"quantitative"},"y":{"field":"y","type":"quantitative"},"fill":{"field":"l","type":"ordinal","scale":{"domain":[1,2,3,4,5,6,7,8],"range":["#0000ff","#0080ff","#00ffff","#00ff80","#00ff00","#ffff00","#ff8000","#ff0000"]},"legend":null},"detail":{"field":"r"},"order":{"value":null}}},
{"data":{"name":"MC"},"mark":{"type":"line","stroke":null,"fill":"white","clip":true},"encoding":{"x":{"field":"x","type":"quantitative"},"y":{"field":"y","type":"quantitative"},"detail":{"field":"r"},"order":{"value":null}}},
{"data":{"name":"walls"},"mark":{"type":"rect","fill":"#d0d0d0","stroke":"black","strokeWidth":2.5},"encoding":{"x":{"field":"x","type":"quantitative"},"x2":{"field":"x2"},"y":{"field":"y","type":"quantitative"},"y2":{"field":"y2"}}},
{"data":{"name":"hatch"},"mark":{"type":"rule","stroke":"#9a9a9a","strokeWidth":3},"encoding":{"x":{"field":"x","type":"quantitative"},"x2":{"field":"x2"},"y":{"field":"y","type":"quantitative"},"y2":{"field":"y2"}}},
{"data":{"name":"frame"},"mark":{"type":"rect","filled":false,"stroke":"black","strokeWidth":4},"encoding":{"x":{"field":"x","type":"quantitative"},"x2":{"field":"x2"},"y":{"field":"y","type":"quantitative"},"y2":{"field":"y2"}}},
{"data":{"values":[{"c":"(c)"}]},"mark":{"type":"text","font":"Liberation Serif","fontWeight":"bold","fontSize":70},"encoding":{"text":{"field":"c"},"x":{"datum":0.685,"type":"quantitative"},"y":{"datum":0.134,"type":"quantitative"}}}
]},
{"width":746,"height":1056,
"layer":[
{"data":{"name":"barF"},"mark":{"type":"rect"},"encoding":{"x":{"datum":0,"type":"quantitative","scale":{"domain":[0,8.575],"nice":false,"zero":false},"axis":null},"x2":{"datum":1},"y":{"field":"lo","type":"quantitative","scale":{"domain":[-0.053,5.063],"nice":false,"zero":false},"axis":null},"y2":{"field":"hi"},"fill":{"field":"l","type":"ordinal","scale":{"domain":[1,2,3,4,5,6,7,8],"range":["#0000ff","#0080ff","#00ffff","#00ff80","#00ff00","#ffff00","#ff8000","#ff0000"]},"legend":null}}},
{"data":{"values":[{"lo":0,"hi":5}]},"mark":{"type":"rect","filled":false,"stroke":"black","strokeWidth":3.5},"encoding":{"x":{"datum":0,"type":"quantitative","axis":null},"x2":{"datum":1},"y":{"field":"lo","type":"quantitative","axis":null},"y2":{"field":"hi"}}},
{"data":{"name":"tickF"},"mark":{"type":"rule","stroke":"black","strokeWidth":3.5},"encoding":{"x":{"datum":1,"type":"quantitative","axis":null},"x2":{"datum":1.25},"y":{"field":"v","type":"quantitative","axis":null}}},
{"data":{"name":"tickF"},"mark":{"type":"text","align":"left","baseline":"middle","fontSize":34,"dy":3},"encoding":{"text":{"field":"t"},"x":{"datum":1.45,"type":"quantitative","axis":null},"y":{"field":"v","type":"quantitative","axis":null}}},
{"data":{"values":[{"t":"fraction"}]},"mark":{"type":"text","fontSize":54,"align":"left"},"encoding":{"text":{"field":"t"},"x":{"datum":-1.7,"type":"quantitative","axis":null},"y":{"datum":5.33,"type":"quantitative","axis":null}}},
{"data":{"values":[{"t":"SEₜₙ"}]},"mark":{"type":"text","fontSize":54,"fontStyle":"italic","align":"left"},"encoding":{"text":{"field":"t"},"x":{"datum":0.6,"type":"quantitative","axis":null},"y":{"datum":5.33,"type":"quantitative","axis":null}}},
{"data":{"values":[{"t":"(−)"}]},"mark":{"type":"text","fontSize":54,"align":"left"},"encoding":{"text":{"field":"t"},"x":{"datum":1.96,"type":"quantitative","axis":null},"y":{"datum":5.33,"type":"quantitative","axis":null}}}
]},
{"width":1100,"height":1056,"title":{"text":"vₜ = 8 m/s, ϕ = 80%","fontSize":54,"fontWeight":"normal","font":"Liberation Sans","offset":16},
"layer":[
{"data":{"name":"frame"},"mark":{"type":"rect","fill":"#ffff00"},"encoding":{"x":{"field":"x","type":"quantitative","scale":{"domain":[-0.2,1.2],"nice":false,"zero":false},"axis":{"title":"x/D","values":[-0.125,0,0.125,0.25,0.375,0.5,0.625,0.75,0.875,1,1.125],"tickSize":{"condition":{"test":"abs(datum.value*4-round(datum.value*4))<0.01","value":18},"value":9},"labelExpr":"abs(datum.value*4-round(datum.value*4))<0.01?format(datum.value,'.2f'):''","labelPadding":22,"titlePadding":36}},"x2":{"field":"x2"},"y":{"field":"y","type":"quantitative","scale":{"domain":[0.43,1.285],"nice":false,"zero":false},"axis":{"title":"r/R","values":[0.5,0.6,0.7,0.8,0.9,1,1.1,1.2],"tickSize":{"condition":{"test":"abs(datum.value*5-round(datum.value*5))<0.01","value":18},"value":9},"labelExpr":"abs(datum.value*5-round(datum.value*5))<0.01?format(datum.value,'.1f'):''","labelPadding":20,"titlePadding":36}},"y2":{"field":"y2"}}},
{"data":{"name":"D"},"mark":{"type":"line","stroke":"#666666","strokeWidth":3,"clip":true},"encoding":{"x":{"field":"x","type":"quantitative"},"y":{"field":"y","type":"quantitative"},"fill":{"field":"l","type":"ordinal","scale":{"domain":[1,2,3,4,5,6,7,8],"range":["#0000ff","#0080ff","#00ffff","#00ff80","#00ff00","#ffff00","#ff8000","#ff0000"]},"legend":null},"detail":{"field":"r"},"order":{"value":null}}},
{"data":{"name":"MD"},"mark":{"type":"line","stroke":null,"fill":"white","clip":true},"encoding":{"x":{"field":"x","type":"quantitative"},"y":{"field":"y","type":"quantitative"},"detail":{"field":"r"},"order":{"value":null}}},
{"data":{"name":"walls"},"mark":{"type":"rect","fill":"#d0d0d0","stroke":"black","strokeWidth":2.5},"encoding":{"x":{"field":"x","type":"quantitative"},"x2":{"field":"x2"},"y":{"field":"y","type":"quantitative"},"y2":{"field":"y2"}}},
{"data":{"name":"hatch"},"mark":{"type":"rule","stroke":"#9a9a9a","strokeWidth":3},"encoding":{"x":{"field":"x","type":"quantitative"},"x2":{"field":"x2"},"y":{"field":"y","type":"quantitative"},"y2":{"field":"y2"}}},
{"data":{"name":"frame"},"mark":{"type":"rect","filled":false,"stroke":"black","strokeWidth":4},"encoding":{"x":{"field":"x","type":"quantitative"},"x2":{"field":"x2"},"y":{"field":"y","type":"quantitative"},"y2":{"field":"y2"}}},
{"data":{"values":[{"c":"(d)"}]},"mark":{"type":"text","font":"Liberation Serif","fontWeight":"bold","fontSize":70},"encoding":{"text":{"field":"c"},"x":{"datum":0.685,"type":"quantitative"},"y":{"datum":0.134,"type":"quantitative"}}}
]},
{"width":331,"height":1056,
"layer":[
{"data":{"name":"barF"},"mark":{"type":"rect"},"encoding":{"x":{"datum":0,"type":"quantitative","scale":{"domain":[0,3.805],"nice":false,"zero":false},"axis":null},"x2":{"datum":1},"y":{"field":"lo","type":"quantitative","scale":{"domain":[-0.053,5.063],"nice":false,"zero":false},"axis":null},"y2":{"field":"hi"},"fill":{"field":"l","type":"ordinal","scale":{"domain":[1,2,3,4,5,6,7,8],"range":["#0000ff","#0080ff","#00ffff","#00ff80","#00ff00","#ffff00","#ff8000","#ff0000"]},"legend":null}}},
{"data":{"values":[{"lo":0,"hi":5}]},"mark":{"type":"rect","filled":false,"stroke":"black","strokeWidth":3.5},"encoding":{"x":{"datum":0,"type":"quantitative","axis":null},"x2":{"datum":1},"y":{"field":"lo","type":"quantitative","axis":null},"y2":{"field":"hi"}}},
{"data":{"name":"tickF"},"mark":{"type":"rule","stroke":"black","strokeWidth":3.5},"encoding":{"x":{"datum":1,"type":"quantitative","axis":null},"x2":{"datum":1.25},"y":{"field":"v","type":"quantitative","axis":null}}},
{"data":{"name":"tickF"},"mark":{"type":"text","align":"left","baseline":"middle","fontSize":34,"dy":3},"encoding":{"text":{"field":"t"},"x":{"datum":1.45,"type":"quantitative","axis":null},"y":{"field":"v","type":"quantitative","axis":null}}},
{"data":{"values":[{"t":"fraction"}]},"mark":{"type":"text","fontSize":54,"align":"left"},"encoding":{"text":{"field":"t"},"x":{"datum":-1.7,"type":"quantitative","axis":null},"y":{"datum":5.33,"type":"quantitative","axis":null}}},
{"data":{"values":[{"t":"SEₜₛ"}]},"mark":{"type":"text","fontSize":54,"fontStyle":"italic","align":"left"},"encoding":{"text":{"field":"t"},"x":{"datum":0.6,"type":"quantitative","axis":null},"y":{"datum":5.33,"type":"quantitative","axis":null}}},
{"data":{"values":[{"t":"(−)"}]},"mark":{"type":"text","fontSize":54,"align":"left"},"encoding":{"text":{"field":"t"},"x":{"datum":1.96,"type":"quantitative","axis":null},"y":{"datum":5.33,"type":"quantitative","axis":null}}}
]}
]}
